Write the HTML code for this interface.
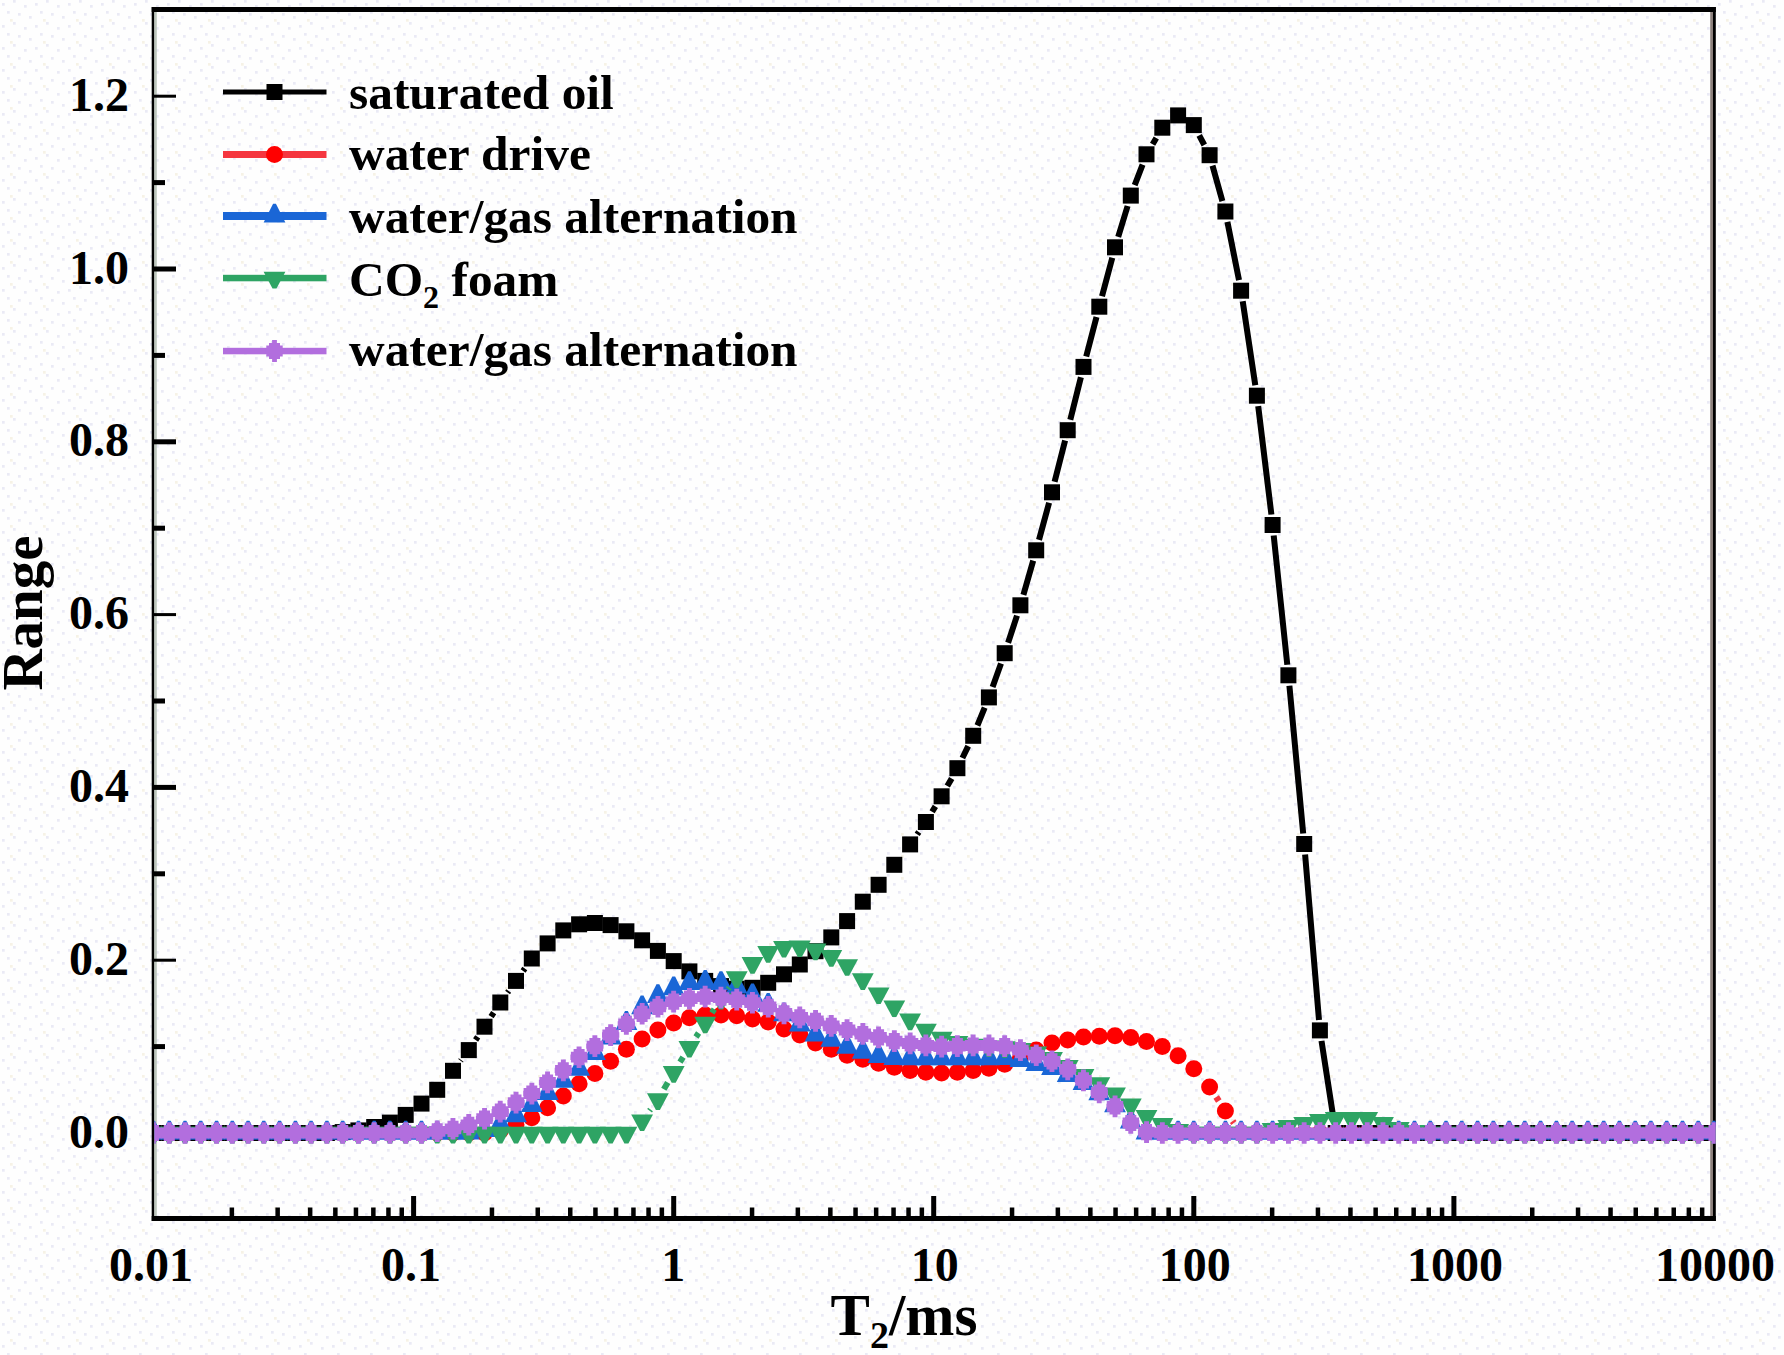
<!DOCTYPE html>
<html><head><meta charset="utf-8"><title>T2 spectrum</title>
<style>html,body{margin:0;padding:0;background:#fefefe}svg{display:block}</style></head>
<body>
<svg width="1784" height="1355" viewBox="0 0 1784 1355">
<rect width="1784" height="1355" fill="#fefefe"/>
<defs><pattern id="dots" width="33" height="22" patternUnits="userSpaceOnUse"><g fill="#eaeaf5"><rect x="2" y="3" width="2.7" height="2.7"/><rect x="13" y="0" width="2.7" height="2.7"/><rect x="24" y="5" width="2.7" height="2.7"/><rect x="7" y="11" width="2.7" height="2.7"/><rect x="18" y="13" width="2.7" height="2.7"/><rect x="29" y="16" width="2.7" height="2.7"/></g><rect x="10" y="19" width="2.7" height="2.7" fill="#f6f2e6"/></pattern><clipPath id="clip"><rect x="154.3" y="12" width="1561.4" height="1206"/></clipPath></defs>
<rect width="1784" height="1355" fill="url(#dots)"/>
<g fill="#000">
<rect x="151.7" y="7" width="1564.1" height="5"/>
<rect x="151.7" y="1216" width="1564.1" height="5"/>
<rect x="151.7" y="7" width="2.7" height="1214"/>
<rect x="1713" y="7" width="2.8" height="1214"/>
</g>
<rect x="154.4" y="12" width="2.4" height="1204" fill="#bcc6bc"/>
<rect x="1710.2" y="12" width="2.8" height="1204" fill="#8c807c"/>
<rect x="154" y="1130.5" width="22" height="5.0" fill="#000"/>
<rect x="154" y="1044.1" width="11" height="5" fill="#000"/>
<rect x="154" y="958.7" width="22" height="3.0" fill="#000"/>
<rect x="154" y="871.3" width="11" height="5" fill="#000"/>
<rect x="154" y="784.9" width="22" height="5.0" fill="#000"/>
<rect x="154" y="698.5" width="11" height="5" fill="#000"/>
<rect x="154" y="613.1" width="22" height="3.0" fill="#000"/>
<rect x="154" y="525.7" width="11" height="5" fill="#000"/>
<rect x="154" y="439.3" width="22" height="5.0" fill="#000"/>
<rect x="154" y="352.9" width="11" height="5" fill="#000"/>
<rect x="154" y="266.5" width="22" height="5.0" fill="#000"/>
<rect x="154" y="180.1" width="11" height="5" fill="#000"/>
<rect x="154" y="94.7" width="22" height="3.0" fill="#000"/>
<rect x="229.6" y="1207.5" width="4.5" height="10" fill="#000"/>
<rect x="275.4" y="1207.5" width="4.5" height="10" fill="#000"/>
<rect x="307.9" y="1207.5" width="4.5" height="10" fill="#000"/>
<rect x="333.1" y="1207.5" width="4.5" height="10" fill="#000"/>
<rect x="353.7" y="1207.5" width="4.5" height="10" fill="#000"/>
<rect x="371.1" y="1207.5" width="4.5" height="10" fill="#000"/>
<rect x="386.2" y="1207.5" width="4.5" height="10" fill="#000"/>
<rect x="399.5" y="1207.5" width="4.5" height="10" fill="#000"/>
<rect x="411.1" y="1196" width="5" height="22" fill="#000"/>
<rect x="489.7" y="1207.5" width="4.5" height="10" fill="#000"/>
<rect x="535.5" y="1207.5" width="4.5" height="10" fill="#000"/>
<rect x="568.0" y="1207.5" width="4.5" height="10" fill="#000"/>
<rect x="593.2" y="1207.5" width="4.5" height="10" fill="#000"/>
<rect x="613.8" y="1207.5" width="4.5" height="10" fill="#000"/>
<rect x="631.2" y="1207.5" width="4.5" height="10" fill="#000"/>
<rect x="646.3" y="1207.5" width="4.5" height="10" fill="#000"/>
<rect x="659.6" y="1207.5" width="4.5" height="10" fill="#000"/>
<rect x="671.2" y="1196" width="5" height="22" fill="#000"/>
<rect x="749.8" y="1207.5" width="4.5" height="10" fill="#000"/>
<rect x="795.6" y="1207.5" width="4.5" height="10" fill="#000"/>
<rect x="828.1" y="1207.5" width="4.5" height="10" fill="#000"/>
<rect x="853.3" y="1207.5" width="4.5" height="10" fill="#000"/>
<rect x="873.9" y="1207.5" width="4.5" height="10" fill="#000"/>
<rect x="891.3" y="1207.5" width="4.5" height="10" fill="#000"/>
<rect x="906.3" y="1207.5" width="4.5" height="10" fill="#000"/>
<rect x="919.6" y="1207.5" width="4.5" height="10" fill="#000"/>
<rect x="931.2" y="1196" width="5" height="22" fill="#000"/>
<rect x="1009.8" y="1207.5" width="4.5" height="10" fill="#000"/>
<rect x="1055.6" y="1207.5" width="4.5" height="10" fill="#000"/>
<rect x="1088.1" y="1207.5" width="4.5" height="10" fill="#000"/>
<rect x="1113.3" y="1207.5" width="4.5" height="10" fill="#000"/>
<rect x="1133.9" y="1207.5" width="4.5" height="10" fill="#000"/>
<rect x="1151.3" y="1207.5" width="4.5" height="10" fill="#000"/>
<rect x="1166.4" y="1207.5" width="4.5" height="10" fill="#000"/>
<rect x="1179.7" y="1207.5" width="4.5" height="10" fill="#000"/>
<rect x="1191.3" y="1196" width="5" height="22" fill="#000"/>
<rect x="1269.9" y="1207.5" width="4.5" height="10" fill="#000"/>
<rect x="1315.7" y="1207.5" width="4.5" height="10" fill="#000"/>
<rect x="1348.2" y="1207.5" width="4.5" height="10" fill="#000"/>
<rect x="1373.4" y="1207.5" width="4.5" height="10" fill="#000"/>
<rect x="1394.0" y="1207.5" width="4.5" height="10" fill="#000"/>
<rect x="1411.4" y="1207.5" width="4.5" height="10" fill="#000"/>
<rect x="1426.5" y="1207.5" width="4.5" height="10" fill="#000"/>
<rect x="1439.8" y="1207.5" width="4.5" height="10" fill="#000"/>
<rect x="1451.4" y="1196" width="5" height="22" fill="#000"/>
<rect x="1530.0" y="1207.5" width="4.5" height="10" fill="#000"/>
<rect x="1575.8" y="1207.5" width="4.5" height="10" fill="#000"/>
<rect x="1608.3" y="1207.5" width="4.5" height="10" fill="#000"/>
<rect x="1633.5" y="1207.5" width="4.5" height="10" fill="#000"/>
<rect x="1654.1" y="1207.5" width="4.5" height="10" fill="#000"/>
<rect x="1671.5" y="1207.5" width="4.5" height="10" fill="#000"/>
<rect x="1686.6" y="1207.5" width="4.5" height="10" fill="#000"/>
<rect x="1699.9" y="1207.5" width="4.5" height="10" fill="#000"/>
<g clip-path="url(#clip)">
<path fill="none" stroke="#000000" stroke-width="6" d="M460.6 1060.8L461.2 1060.0M475.6 1040.0L477.7 1036.8M491.1 1016.6L493.7 1012.6M507.6 992.5L508.7 991.0M523.1 970.9L524.8 968.5M917.2 834.4L918.8 832.0M932.1 811.8L935.4 806.4M947.3 786.1L951.7 778.4M962.4 758.0L968.2 746.1M977.4 725.5L984.7 707.7M992.6 687.0L1001.0 663.6M1008.1 642.8L1017.0 615.6M1023.4 594.9L1033.2 560.7M1039.0 539.9L1049.1 502.7M1054.6 481.8L1065.1 440.6M1070.3 419.8L1080.9 377.3M1086.2 356.5L1096.5 317.1M1102.0 296.3L1112.3 257.7M1118.2 236.9L1127.6 206.0M1134.7 185.2L1142.6 164.7M1152.6 144.2L1156.3 137.9M1199.2 135.3L1204.3 145.0M1212.5 165.6L1222.4 201.1M1227.4 221.9L1239.0 280.2M1242.7 301.2L1255.3 385.2M1258.2 406.1L1271.4 514.5M1273.7 535.5L1287.3 664.8M1289.4 685.7L1303.2 833.5M1305.1 854.5L1319.0 1020.0M1321.5 1040.9L1334.1 1122.5"/>
<rect x="145.5" y="1125.0" width="16" height="16" fill="#000000"/><rect x="161.3" y="1125.0" width="16" height="16" fill="#000000"/><rect x="177.0" y="1125.0" width="16" height="16" fill="#000000"/><rect x="192.8" y="1125.0" width="16" height="16" fill="#000000"/><rect x="208.6" y="1125.0" width="16" height="16" fill="#000000"/><rect x="224.3" y="1125.0" width="16" height="16" fill="#000000"/><rect x="240.1" y="1125.0" width="16" height="16" fill="#000000"/><rect x="255.8" y="1125.0" width="16" height="16" fill="#000000"/><rect x="271.6" y="1125.0" width="16" height="16" fill="#000000"/><rect x="287.4" y="1125.0" width="16" height="16" fill="#000000"/><rect x="303.1" y="1125.0" width="16" height="16" fill="#000000"/><rect x="318.9" y="1125.0" width="16" height="16" fill="#000000"/><rect x="334.7" y="1124.1" width="16" height="16" fill="#000000"/><rect x="350.4" y="1122.4" width="16" height="16" fill="#000000"/><rect x="366.2" y="1119.0" width="16" height="16" fill="#000000"/><rect x="381.9" y="1114.6" width="16" height="16" fill="#000000"/><rect x="397.7" y="1106.9" width="16" height="16" fill="#000000"/><rect x="413.5" y="1095.6" width="16" height="16" fill="#000000"/><rect x="429.2" y="1081.8" width="16" height="16" fill="#000000"/><rect x="445.0" y="1062.8" width="16" height="16" fill="#000000"/><rect x="460.8" y="1042.1" width="16" height="16" fill="#000000"/><rect x="476.5" y="1018.7" width="16" height="16" fill="#000000"/><rect x="492.3" y="994.5" width="16" height="16" fill="#000000"/><rect x="508.0" y="972.9" width="16" height="16" fill="#000000"/><rect x="523.8" y="950.5" width="16" height="16" fill="#000000"/><rect x="539.6" y="935.4" width="16" height="16" fill="#000000"/><rect x="555.3" y="922.4" width="16" height="16" fill="#000000"/><rect x="571.1" y="916.3" width="16" height="16" fill="#000000"/><rect x="586.9" y="915.0" width="16" height="16" fill="#000000"/><rect x="602.6" y="917.1" width="16" height="16" fill="#000000"/><rect x="618.4" y="923.3" width="16" height="16" fill="#000000"/><rect x="634.1" y="932.3" width="16" height="16" fill="#000000"/><rect x="649.9" y="942.9" width="16" height="16" fill="#000000"/><rect x="665.7" y="953.1" width="16" height="16" fill="#000000"/><rect x="681.4" y="963.4" width="16" height="16" fill="#000000"/><rect x="697.2" y="972.9" width="16" height="16" fill="#000000"/><rect x="713.0" y="978.1" width="16" height="16" fill="#000000"/><rect x="728.7" y="980.7" width="16" height="16" fill="#000000"/><rect x="744.5" y="979.8" width="16" height="16" fill="#000000"/><rect x="760.2" y="974.8" width="16" height="16" fill="#000000"/><rect x="776.0" y="966.3" width="16" height="16" fill="#000000"/><rect x="791.8" y="956.5" width="16" height="16" fill="#000000"/><rect x="807.5" y="943.2" width="16" height="16" fill="#000000"/><rect x="823.3" y="929.4" width="16" height="16" fill="#000000"/><rect x="839.1" y="913.1" width="16" height="16" fill="#000000"/><rect x="854.8" y="893.7" width="16" height="16" fill="#000000"/><rect x="870.6" y="876.8" width="16" height="16" fill="#000000"/><rect x="886.3" y="856.8" width="16" height="16" fill="#000000"/><rect x="902.1" y="836.4" width="16" height="16" fill="#000000"/><rect x="917.9" y="814.0" width="16" height="16" fill="#000000"/><rect x="933.6" y="788.3" width="16" height="16" fill="#000000"/><rect x="949.4" y="760.2" width="16" height="16" fill="#000000"/><rect x="965.2" y="727.8" width="16" height="16" fill="#000000"/><rect x="980.9" y="689.4" width="16" height="16" fill="#000000"/><rect x="996.7" y="645.2" width="16" height="16" fill="#000000"/><rect x="1012.4" y="597.3" width="16" height="16" fill="#000000"/><rect x="1028.2" y="542.3" width="16" height="16" fill="#000000"/><rect x="1044.0" y="484.3" width="16" height="16" fill="#000000"/><rect x="1059.7" y="422.2" width="16" height="16" fill="#000000"/><rect x="1075.5" y="358.9" width="16" height="16" fill="#000000"/><rect x="1091.3" y="298.7" width="16" height="16" fill="#000000"/><rect x="1107.0" y="239.3" width="16" height="16" fill="#000000"/><rect x="1122.8" y="187.6" width="16" height="16" fill="#000000"/><rect x="1138.5" y="146.3" width="16" height="16" fill="#000000"/><rect x="1154.3" y="119.7" width="16" height="16" fill="#000000"/><rect x="1170.1" y="107.4" width="16" height="16" fill="#000000"/><rect x="1185.8" y="117.1" width="16" height="16" fill="#000000"/><rect x="1201.6" y="147.2" width="16" height="16" fill="#000000"/><rect x="1217.4" y="203.5" width="16" height="16" fill="#000000"/><rect x="1233.1" y="282.7" width="16" height="16" fill="#000000"/><rect x="1248.9" y="387.7" width="16" height="16" fill="#000000"/><rect x="1264.6" y="517.0" width="16" height="16" fill="#000000"/><rect x="1280.4" y="667.3" width="16" height="16" fill="#000000"/><rect x="1296.2" y="836.0" width="16" height="16" fill="#000000"/><rect x="1311.9" y="1022.4" width="16" height="16" fill="#000000"/><rect x="1327.7" y="1125.0" width="16" height="16" fill="#000000"/><rect x="1343.5" y="1125.0" width="16" height="16" fill="#000000"/><rect x="1359.2" y="1125.0" width="16" height="16" fill="#000000"/><rect x="1375.0" y="1125.0" width="16" height="16" fill="#000000"/><rect x="1390.7" y="1125.0" width="16" height="16" fill="#000000"/><rect x="1406.5" y="1125.0" width="16" height="16" fill="#000000"/><rect x="1422.3" y="1125.0" width="16" height="16" fill="#000000"/><rect x="1438.0" y="1125.0" width="16" height="16" fill="#000000"/><rect x="1453.8" y="1125.0" width="16" height="16" fill="#000000"/><rect x="1469.6" y="1125.0" width="16" height="16" fill="#000000"/><rect x="1485.3" y="1125.0" width="16" height="16" fill="#000000"/><rect x="1501.1" y="1125.0" width="16" height="16" fill="#000000"/><rect x="1516.8" y="1125.0" width="16" height="16" fill="#000000"/><rect x="1532.6" y="1125.0" width="16" height="16" fill="#000000"/><rect x="1548.4" y="1125.0" width="16" height="16" fill="#000000"/><rect x="1564.1" y="1125.0" width="16" height="16" fill="#000000"/><rect x="1579.9" y="1125.0" width="16" height="16" fill="#000000"/><rect x="1595.7" y="1125.0" width="16" height="16" fill="#000000"/><rect x="1611.4" y="1125.0" width="16" height="16" fill="#000000"/><rect x="1627.2" y="1125.0" width="16" height="16" fill="#000000"/><rect x="1642.9" y="1125.0" width="16" height="16" fill="#000000"/><rect x="1658.7" y="1125.0" width="16" height="16" fill="#000000"/><rect x="1674.5" y="1125.0" width="16" height="16" fill="#000000"/><rect x="1690.2" y="1125.0" width="16" height="16" fill="#000000"/><rect x="1706.0" y="1125.0" width="16" height="16" fill="#000000"/>
<path fill="none" stroke="#f5363f" stroke-width="6.5" d="M1216.2 1097.0L1218.8 1101.0M1232.6 1121.2L1233.9 1123.0"/>
<circle cx="153.5" cy="1133.0" r="8.5" fill="#ff0000"/><circle cx="169.3" cy="1133.0" r="8.5" fill="#ff0000"/><circle cx="185.0" cy="1133.0" r="8.5" fill="#ff0000"/><circle cx="200.8" cy="1133.0" r="8.5" fill="#ff0000"/><circle cx="216.6" cy="1133.0" r="8.5" fill="#ff0000"/><circle cx="232.3" cy="1133.0" r="8.5" fill="#ff0000"/><circle cx="248.1" cy="1133.0" r="8.5" fill="#ff0000"/><circle cx="263.8" cy="1133.0" r="8.5" fill="#ff0000"/><circle cx="279.6" cy="1133.0" r="8.5" fill="#ff0000"/><circle cx="295.4" cy="1133.0" r="8.5" fill="#ff0000"/><circle cx="311.1" cy="1133.0" r="8.5" fill="#ff0000"/><circle cx="326.9" cy="1133.0" r="8.5" fill="#ff0000"/><circle cx="342.7" cy="1133.0" r="8.5" fill="#ff0000"/><circle cx="358.4" cy="1133.0" r="8.5" fill="#ff0000"/><circle cx="374.2" cy="1133.0" r="8.5" fill="#ff0000"/><circle cx="389.9" cy="1133.0" r="8.5" fill="#ff0000"/><circle cx="405.7" cy="1133.0" r="8.5" fill="#ff0000"/><circle cx="421.5" cy="1133.0" r="8.5" fill="#ff0000"/><circle cx="437.2" cy="1133.0" r="8.5" fill="#ff0000"/><circle cx="453.0" cy="1133.0" r="8.5" fill="#ff0000"/><circle cx="468.8" cy="1133.0" r="8.5" fill="#ff0000"/><circle cx="484.5" cy="1133.0" r="8.5" fill="#ff0000"/><circle cx="500.3" cy="1130.4" r="8.5" fill="#ff0000"/><circle cx="516.0" cy="1124.8" r="8.5" fill="#ff0000"/><circle cx="531.8" cy="1117.7" r="8.5" fill="#ff0000"/><circle cx="547.6" cy="1107.7" r="8.5" fill="#ff0000"/><circle cx="563.3" cy="1095.9" r="8.5" fill="#ff0000"/><circle cx="579.1" cy="1083.8" r="8.5" fill="#ff0000"/><circle cx="594.9" cy="1073.4" r="8.5" fill="#ff0000"/><circle cx="610.6" cy="1061.3" r="8.5" fill="#ff0000"/><circle cx="626.4" cy="1049.2" r="8.5" fill="#ff0000"/><circle cx="642.1" cy="1039.1" r="8.5" fill="#ff0000"/><circle cx="657.9" cy="1030.0" r="8.5" fill="#ff0000"/><circle cx="673.7" cy="1022.9" r="8.5" fill="#ff0000"/><circle cx="689.4" cy="1017.8" r="8.5" fill="#ff0000"/><circle cx="705.2" cy="1014.9" r="8.5" fill="#ff0000"/><circle cx="721.0" cy="1014.9" r="8.5" fill="#ff0000"/><circle cx="736.7" cy="1015.8" r="8.5" fill="#ff0000"/><circle cx="752.5" cy="1018.9" r="8.5" fill="#ff0000"/><circle cx="768.2" cy="1021.9" r="8.5" fill="#ff0000"/><circle cx="784.0" cy="1028.9" r="8.5" fill="#ff0000"/><circle cx="799.8" cy="1034.9" r="8.5" fill="#ff0000"/><circle cx="815.5" cy="1043.1" r="8.5" fill="#ff0000"/><circle cx="831.3" cy="1049.2" r="8.5" fill="#ff0000"/><circle cx="847.1" cy="1055.2" r="8.5" fill="#ff0000"/><circle cx="862.8" cy="1059.2" r="8.5" fill="#ff0000"/><circle cx="878.6" cy="1063.3" r="8.5" fill="#ff0000"/><circle cx="894.3" cy="1067.3" r="8.5" fill="#ff0000"/><circle cx="910.1" cy="1070.4" r="8.5" fill="#ff0000"/><circle cx="925.9" cy="1072.3" r="8.5" fill="#ff0000"/><circle cx="941.6" cy="1073.0" r="8.5" fill="#ff0000"/><circle cx="957.4" cy="1072.3" r="8.5" fill="#ff0000"/><circle cx="973.2" cy="1070.4" r="8.5" fill="#ff0000"/><circle cx="988.9" cy="1068.3" r="8.5" fill="#ff0000"/><circle cx="1004.7" cy="1064.3" r="8.5" fill="#ff0000"/><circle cx="1020.4" cy="1057.8" r="8.5" fill="#ff0000"/><circle cx="1036.2" cy="1050.1" r="8.5" fill="#ff0000"/><circle cx="1052.0" cy="1043.1" r="8.5" fill="#ff0000"/><circle cx="1067.7" cy="1040.1" r="8.5" fill="#ff0000"/><circle cx="1083.5" cy="1037.1" r="8.5" fill="#ff0000"/><circle cx="1099.3" cy="1036.2" r="8.5" fill="#ff0000"/><circle cx="1115.0" cy="1035.8" r="8.5" fill="#ff0000"/><circle cx="1130.8" cy="1037.5" r="8.5" fill="#ff0000"/><circle cx="1146.5" cy="1041.5" r="8.5" fill="#ff0000"/><circle cx="1162.3" cy="1046.6" r="8.5" fill="#ff0000"/><circle cx="1178.1" cy="1055.7" r="8.5" fill="#ff0000"/><circle cx="1193.8" cy="1068.8" r="8.5" fill="#ff0000"/><circle cx="1209.6" cy="1086.9" r="8.5" fill="#ff0000"/><circle cx="1225.4" cy="1111.1" r="8.5" fill="#ff0000"/><circle cx="1241.1" cy="1133.0" r="8.5" fill="#ff0000"/><circle cx="1256.9" cy="1133.0" r="8.5" fill="#ff0000"/><circle cx="1272.6" cy="1133.0" r="8.5" fill="#ff0000"/><circle cx="1288.4" cy="1133.0" r="8.5" fill="#ff0000"/><circle cx="1304.2" cy="1133.0" r="8.5" fill="#ff0000"/><circle cx="1319.9" cy="1133.0" r="8.5" fill="#ff0000"/><circle cx="1335.7" cy="1133.0" r="8.5" fill="#ff0000"/><circle cx="1351.5" cy="1133.0" r="8.5" fill="#ff0000"/><circle cx="1367.2" cy="1133.0" r="8.5" fill="#ff0000"/><circle cx="1383.0" cy="1133.0" r="8.5" fill="#ff0000"/><circle cx="1398.7" cy="1133.0" r="8.5" fill="#ff0000"/><circle cx="1414.5" cy="1133.0" r="8.5" fill="#ff0000"/><circle cx="1430.3" cy="1133.0" r="8.5" fill="#ff0000"/><circle cx="1446.0" cy="1133.0" r="8.5" fill="#ff0000"/><circle cx="1461.8" cy="1133.0" r="8.5" fill="#ff0000"/><circle cx="1477.6" cy="1133.0" r="8.5" fill="#ff0000"/><circle cx="1493.3" cy="1133.0" r="8.5" fill="#ff0000"/><circle cx="1509.1" cy="1133.0" r="8.5" fill="#ff0000"/><circle cx="1524.8" cy="1133.0" r="8.5" fill="#ff0000"/><circle cx="1540.6" cy="1133.0" r="8.5" fill="#ff0000"/><circle cx="1556.4" cy="1133.0" r="8.5" fill="#ff0000"/><circle cx="1572.1" cy="1133.0" r="8.5" fill="#ff0000"/><circle cx="1587.9" cy="1133.0" r="8.5" fill="#ff0000"/><circle cx="1603.7" cy="1133.0" r="8.5" fill="#ff0000"/><circle cx="1619.4" cy="1133.0" r="8.5" fill="#ff0000"/><circle cx="1635.2" cy="1133.0" r="8.5" fill="#ff0000"/><circle cx="1650.9" cy="1133.0" r="8.5" fill="#ff0000"/><circle cx="1666.7" cy="1133.0" r="8.5" fill="#ff0000"/><circle cx="1682.5" cy="1133.0" r="8.5" fill="#ff0000"/><circle cx="1698.2" cy="1133.0" r="8.5" fill="#ff0000"/><circle cx="1714.0" cy="1133.0" r="8.5" fill="#ff0000"/>
<path fill="none" stroke="#1a66d6" stroke-width="7" d=""/>
<polygon points="152.1,1120.8 154.9,1120.8 164.4,1139.6 142.6,1139.6" fill="#1a66d6"/><polygon points="167.9,1120.8 170.7,1120.8 180.2,1139.6 158.4,1139.6" fill="#1a66d6"/><polygon points="183.6,1120.8 186.4,1120.8 195.9,1139.6 174.1,1139.6" fill="#1a66d6"/><polygon points="199.4,1120.8 202.2,1120.8 211.7,1139.6 189.9,1139.6" fill="#1a66d6"/><polygon points="215.2,1120.8 218.0,1120.8 227.5,1139.6 205.7,1139.6" fill="#1a66d6"/><polygon points="230.9,1120.8 233.7,1120.8 243.2,1139.6 221.4,1139.6" fill="#1a66d6"/><polygon points="246.7,1120.8 249.5,1120.8 259.0,1139.6 237.2,1139.6" fill="#1a66d6"/><polygon points="262.4,1120.8 265.2,1120.8 274.7,1139.6 252.9,1139.6" fill="#1a66d6"/><polygon points="278.2,1120.8 281.0,1120.8 290.5,1139.6 268.7,1139.6" fill="#1a66d6"/><polygon points="294.0,1120.8 296.8,1120.8 306.3,1139.6 284.5,1139.6" fill="#1a66d6"/><polygon points="309.7,1120.8 312.5,1120.8 322.0,1139.6 300.2,1139.6" fill="#1a66d6"/><polygon points="325.5,1120.8 328.3,1120.8 337.8,1139.6 316.0,1139.6" fill="#1a66d6"/><polygon points="341.3,1120.8 344.1,1120.8 353.6,1139.6 331.8,1139.6" fill="#1a66d6"/><polygon points="357.0,1120.8 359.8,1120.8 369.3,1139.6 347.5,1139.6" fill="#1a66d6"/><polygon points="372.8,1120.8 375.6,1120.8 385.1,1139.6 363.3,1139.6" fill="#1a66d6"/><polygon points="388.5,1120.8 391.3,1120.8 400.8,1139.6 379.0,1139.6" fill="#1a66d6"/><polygon points="404.3,1120.8 407.1,1120.8 416.6,1139.6 394.8,1139.6" fill="#1a66d6"/><polygon points="420.1,1120.8 422.9,1120.8 432.4,1139.6 410.6,1139.6" fill="#1a66d6"/><polygon points="435.8,1120.8 438.6,1120.8 448.1,1139.6 426.3,1139.6" fill="#1a66d6"/><polygon points="451.6,1120.8 454.4,1120.8 463.9,1139.6 442.1,1139.6" fill="#1a66d6"/><polygon points="467.4,1120.8 470.2,1120.8 479.7,1139.6 457.9,1139.6" fill="#1a66d6"/><polygon points="483.1,1118.2 485.9,1118.2 495.4,1137.0 473.6,1137.0" fill="#1a66d6"/><polygon points="498.9,1112.2 501.7,1112.2 511.2,1131.0 489.4,1131.0" fill="#1a66d6"/><polygon points="514.6,1103.5 517.4,1103.5 526.9,1122.3 505.1,1122.3" fill="#1a66d6"/><polygon points="530.4,1093.2 533.2,1093.2 542.7,1112.0 520.9,1112.0" fill="#1a66d6"/><polygon points="546.2,1081.1 549.0,1081.1 558.5,1099.9 536.7,1099.9" fill="#1a66d6"/><polygon points="561.9,1069.0 564.7,1069.0 574.2,1087.8 552.4,1087.8" fill="#1a66d6"/><polygon points="577.7,1056.9 580.5,1056.9 590.0,1075.7 568.2,1075.7" fill="#1a66d6"/><polygon points="593.5,1041.3 596.3,1041.3 605.8,1060.1 584.0,1060.1" fill="#1a66d6"/><polygon points="609.2,1025.8 612.0,1025.8 621.5,1044.6 599.7,1044.6" fill="#1a66d6"/><polygon points="625.0,1011.1 627.8,1011.1 637.3,1029.9 615.5,1029.9" fill="#1a66d6"/><polygon points="640.7,995.5 643.5,995.5 653.0,1014.3 631.2,1014.3" fill="#1a66d6"/><polygon points="656.5,984.3 659.3,984.3 668.8,1003.1 647.0,1003.1" fill="#1a66d6"/><polygon points="672.3,976.5 675.1,976.5 684.6,995.3 662.8,995.3" fill="#1a66d6"/><polygon points="688.0,971.3 690.8,971.3 700.3,990.1 678.5,990.1" fill="#1a66d6"/><polygon points="703.8,970.0 706.6,970.0 716.1,988.8 694.3,988.8" fill="#1a66d6"/><polygon points="719.6,971.3 722.4,971.3 731.9,990.1 710.1,990.1" fill="#1a66d6"/><polygon points="735.3,974.8 738.1,974.8 747.6,993.6 725.8,993.6" fill="#1a66d6"/><polygon points="751.1,983.4 753.9,983.4 763.4,1002.2 741.6,1002.2" fill="#1a66d6"/><polygon points="766.8,992.9 769.6,992.9 779.1,1011.7 757.3,1011.7" fill="#1a66d6"/><polygon points="782.6,1002.4 785.4,1002.4 794.9,1021.2 773.1,1021.2" fill="#1a66d6"/><polygon points="798.4,1012.8 801.2,1012.8 810.7,1031.6 788.9,1031.6" fill="#1a66d6"/><polygon points="814.1,1022.8 816.9,1022.8 826.4,1041.6 804.6,1041.6" fill="#1a66d6"/><polygon points="829.9,1027.9 832.7,1027.9 842.2,1046.7 820.4,1046.7" fill="#1a66d6"/><polygon points="845.7,1035.0 848.5,1035.0 858.0,1053.8 836.2,1053.8" fill="#1a66d6"/><polygon points="861.4,1040.0 864.2,1040.0 873.7,1058.8 851.9,1058.8" fill="#1a66d6"/><polygon points="877.2,1044.1 880.0,1044.1 889.5,1062.9 867.7,1062.9" fill="#1a66d6"/><polygon points="892.9,1046.1 895.7,1046.1 905.2,1064.9 883.4,1064.9" fill="#1a66d6"/><polygon points="908.7,1046.5 911.5,1046.5 921.0,1065.3 899.2,1065.3" fill="#1a66d6"/><polygon points="924.5,1046.5 927.3,1046.5 936.8,1065.3 915.0,1065.3" fill="#1a66d6"/><polygon points="940.2,1046.5 943.0,1046.5 952.5,1065.3 930.7,1065.3" fill="#1a66d6"/><polygon points="956.0,1046.5 958.8,1046.5 968.3,1065.3 946.5,1065.3" fill="#1a66d6"/><polygon points="971.8,1046.5 974.6,1046.5 984.1,1065.3 962.3,1065.3" fill="#1a66d6"/><polygon points="987.5,1046.5 990.3,1046.5 999.8,1065.3 978.0,1065.3" fill="#1a66d6"/><polygon points="1003.3,1046.1 1006.1,1046.1 1015.6,1064.9 993.8,1064.9" fill="#1a66d6"/><polygon points="1019.0,1048.1 1021.8,1048.1 1031.3,1066.9 1009.5,1066.9" fill="#1a66d6"/><polygon points="1034.8,1052.1 1037.6,1052.1 1047.1,1070.9 1025.3,1070.9" fill="#1a66d6"/><polygon points="1050.6,1056.2 1053.4,1056.2 1062.9,1075.0 1041.1,1075.0" fill="#1a66d6"/><polygon points="1066.3,1063.2 1069.1,1063.2 1078.6,1082.0 1056.8,1082.0" fill="#1a66d6"/><polygon points="1082.1,1071.3 1084.9,1071.3 1094.4,1090.1 1072.6,1090.1" fill="#1a66d6"/><polygon points="1097.9,1081.4 1100.7,1081.4 1110.2,1100.2 1088.4,1100.2" fill="#1a66d6"/><polygon points="1113.6,1093.5 1116.4,1093.5 1125.9,1112.3 1104.1,1112.3" fill="#1a66d6"/><polygon points="1129.4,1109.6 1132.2,1109.6 1141.7,1128.4 1119.9,1128.4" fill="#1a66d6"/><polygon points="1145.1,1120.8 1147.9,1120.8 1157.4,1139.6 1135.6,1139.6" fill="#1a66d6"/><polygon points="1160.9,1120.8 1163.7,1120.8 1173.2,1139.6 1151.4,1139.6" fill="#1a66d6"/><polygon points="1176.7,1120.8 1179.5,1120.8 1189.0,1139.6 1167.2,1139.6" fill="#1a66d6"/><polygon points="1192.4,1120.8 1195.2,1120.8 1204.7,1139.6 1182.9,1139.6" fill="#1a66d6"/><polygon points="1208.2,1120.8 1211.0,1120.8 1220.5,1139.6 1198.7,1139.6" fill="#1a66d6"/><polygon points="1224.0,1120.8 1226.8,1120.8 1236.3,1139.6 1214.5,1139.6" fill="#1a66d6"/><polygon points="1239.7,1120.8 1242.5,1120.8 1252.0,1139.6 1230.2,1139.6" fill="#1a66d6"/><polygon points="1255.5,1120.8 1258.3,1120.8 1267.8,1139.6 1246.0,1139.6" fill="#1a66d6"/><polygon points="1271.2,1120.8 1274.0,1120.8 1283.5,1139.6 1261.7,1139.6" fill="#1a66d6"/><polygon points="1287.0,1120.8 1289.8,1120.8 1299.3,1139.6 1277.5,1139.6" fill="#1a66d6"/><polygon points="1302.8,1120.8 1305.6,1120.8 1315.1,1139.6 1293.3,1139.6" fill="#1a66d6"/><polygon points="1318.5,1120.8 1321.3,1120.8 1330.8,1139.6 1309.0,1139.6" fill="#1a66d6"/><polygon points="1334.3,1120.8 1337.1,1120.8 1346.6,1139.6 1324.8,1139.6" fill="#1a66d6"/><polygon points="1350.1,1120.8 1352.9,1120.8 1362.4,1139.6 1340.6,1139.6" fill="#1a66d6"/><polygon points="1365.8,1120.8 1368.6,1120.8 1378.1,1139.6 1356.3,1139.6" fill="#1a66d6"/><polygon points="1381.6,1120.8 1384.4,1120.8 1393.9,1139.6 1372.1,1139.6" fill="#1a66d6"/><polygon points="1397.3,1120.8 1400.1,1120.8 1409.6,1139.6 1387.8,1139.6" fill="#1a66d6"/><polygon points="1413.1,1120.8 1415.9,1120.8 1425.4,1139.6 1403.6,1139.6" fill="#1a66d6"/><polygon points="1428.9,1120.8 1431.7,1120.8 1441.2,1139.6 1419.4,1139.6" fill="#1a66d6"/><polygon points="1444.6,1120.8 1447.4,1120.8 1456.9,1139.6 1435.1,1139.6" fill="#1a66d6"/><polygon points="1460.4,1120.8 1463.2,1120.8 1472.7,1139.6 1450.9,1139.6" fill="#1a66d6"/><polygon points="1476.2,1120.8 1479.0,1120.8 1488.5,1139.6 1466.7,1139.6" fill="#1a66d6"/><polygon points="1491.9,1120.8 1494.7,1120.8 1504.2,1139.6 1482.4,1139.6" fill="#1a66d6"/><polygon points="1507.7,1120.8 1510.5,1120.8 1520.0,1139.6 1498.2,1139.6" fill="#1a66d6"/><polygon points="1523.4,1120.8 1526.2,1120.8 1535.7,1139.6 1513.9,1139.6" fill="#1a66d6"/><polygon points="1539.2,1120.8 1542.0,1120.8 1551.5,1139.6 1529.7,1139.6" fill="#1a66d6"/><polygon points="1555.0,1120.8 1557.8,1120.8 1567.3,1139.6 1545.5,1139.6" fill="#1a66d6"/><polygon points="1570.7,1120.8 1573.5,1120.8 1583.0,1139.6 1561.2,1139.6" fill="#1a66d6"/><polygon points="1586.5,1120.8 1589.3,1120.8 1598.8,1139.6 1577.0,1139.6" fill="#1a66d6"/><polygon points="1602.3,1120.8 1605.1,1120.8 1614.6,1139.6 1592.8,1139.6" fill="#1a66d6"/><polygon points="1618.0,1120.8 1620.8,1120.8 1630.3,1139.6 1608.5,1139.6" fill="#1a66d6"/><polygon points="1633.8,1120.8 1636.6,1120.8 1646.1,1139.6 1624.3,1139.6" fill="#1a66d6"/><polygon points="1649.5,1120.8 1652.3,1120.8 1661.8,1139.6 1640.0,1139.6" fill="#1a66d6"/><polygon points="1665.3,1120.8 1668.1,1120.8 1677.6,1139.6 1655.8,1139.6" fill="#1a66d6"/><polygon points="1681.1,1120.8 1683.9,1120.8 1693.4,1139.6 1671.6,1139.6" fill="#1a66d6"/><polygon points="1696.8,1120.8 1699.6,1120.8 1709.1,1139.6 1687.3,1139.6" fill="#1a66d6"/><polygon points="1712.6,1120.8 1715.4,1120.8 1724.9,1139.6 1703.1,1139.6" fill="#1a66d6"/>
<path fill="none" stroke="#2ea464" stroke-width="6" d="M649.6 1110.7L650.5 1109.5M663.8 1089.3L667.8 1082.4M680.0 1062.1L683.1 1057.2M696.0 1037.0L698.6 1033.0M711.9 1012.8L714.3 1009.2M728.3 989.1L729.4 987.5"/>
<polygon points="151.5,1143.4 155.5,1143.4 164.4,1126.8 142.6,1126.8" fill="#2ea464"/><polygon points="167.3,1143.4 171.3,1143.4 180.2,1126.8 158.4,1126.8" fill="#2ea464"/><polygon points="183.0,1143.4 187.0,1143.4 195.9,1126.8 174.1,1126.8" fill="#2ea464"/><polygon points="198.8,1143.4 202.8,1143.4 211.7,1126.8 189.9,1126.8" fill="#2ea464"/><polygon points="214.6,1143.4 218.6,1143.4 227.5,1126.8 205.7,1126.8" fill="#2ea464"/><polygon points="230.3,1143.4 234.3,1143.4 243.2,1126.8 221.4,1126.8" fill="#2ea464"/><polygon points="246.1,1143.4 250.1,1143.4 259.0,1126.8 237.2,1126.8" fill="#2ea464"/><polygon points="261.8,1143.4 265.8,1143.4 274.7,1126.8 252.9,1126.8" fill="#2ea464"/><polygon points="277.6,1143.4 281.6,1143.4 290.5,1126.8 268.7,1126.8" fill="#2ea464"/><polygon points="293.4,1143.4 297.4,1143.4 306.3,1126.8 284.5,1126.8" fill="#2ea464"/><polygon points="309.1,1143.4 313.1,1143.4 322.0,1126.8 300.2,1126.8" fill="#2ea464"/><polygon points="324.9,1143.4 328.9,1143.4 337.8,1126.8 316.0,1126.8" fill="#2ea464"/><polygon points="340.7,1143.4 344.7,1143.4 353.6,1126.8 331.8,1126.8" fill="#2ea464"/><polygon points="356.4,1143.4 360.4,1143.4 369.3,1126.8 347.5,1126.8" fill="#2ea464"/><polygon points="372.2,1143.4 376.2,1143.4 385.1,1126.8 363.3,1126.8" fill="#2ea464"/><polygon points="387.9,1143.4 391.9,1143.4 400.8,1126.8 379.0,1126.8" fill="#2ea464"/><polygon points="403.7,1143.4 407.7,1143.4 416.6,1126.8 394.8,1126.8" fill="#2ea464"/><polygon points="419.5,1143.4 423.5,1143.4 432.4,1126.8 410.6,1126.8" fill="#2ea464"/><polygon points="435.2,1143.4 439.2,1143.4 448.1,1126.8 426.3,1126.8" fill="#2ea464"/><polygon points="451.0,1143.4 455.0,1143.4 463.9,1126.8 442.1,1126.8" fill="#2ea464"/><polygon points="466.8,1143.4 470.8,1143.4 479.7,1126.8 457.9,1126.8" fill="#2ea464"/><polygon points="482.5,1143.4 486.5,1143.4 495.4,1126.8 473.6,1126.8" fill="#2ea464"/><polygon points="498.3,1143.4 502.3,1143.4 511.2,1126.8 489.4,1126.8" fill="#2ea464"/><polygon points="514.0,1143.4 518.0,1143.4 526.9,1126.8 505.1,1126.8" fill="#2ea464"/><polygon points="529.8,1143.4 533.8,1143.4 542.7,1126.8 520.9,1126.8" fill="#2ea464"/><polygon points="545.6,1143.4 549.6,1143.4 558.5,1126.8 536.7,1126.8" fill="#2ea464"/><polygon points="561.3,1143.4 565.3,1143.4 574.2,1126.8 552.4,1126.8" fill="#2ea464"/><polygon points="577.1,1143.4 581.1,1143.4 590.0,1126.8 568.2,1126.8" fill="#2ea464"/><polygon points="592.9,1143.4 596.9,1143.4 605.8,1126.8 584.0,1126.8" fill="#2ea464"/><polygon points="608.6,1143.4 612.6,1143.4 621.5,1126.8 599.7,1126.8" fill="#2ea464"/><polygon points="624.4,1143.4 628.4,1143.4 637.3,1126.8 615.5,1126.8" fill="#2ea464"/><polygon points="640.1,1131.1 644.1,1131.1 653.0,1114.5 631.2,1114.5" fill="#2ea464"/><polygon points="655.9,1109.9 659.9,1109.9 668.8,1093.3 647.0,1093.3" fill="#2ea464"/><polygon points="671.7,1082.7 675.7,1082.7 684.6,1066.1 662.8,1066.1" fill="#2ea464"/><polygon points="687.4,1057.5 691.4,1057.5 700.3,1040.9 678.5,1040.9" fill="#2ea464"/><polygon points="703.2,1033.3 707.2,1033.3 716.1,1016.7 694.3,1016.7" fill="#2ea464"/><polygon points="719.0,1009.5 723.0,1009.5 731.9,992.9 710.1,992.9" fill="#2ea464"/><polygon points="734.7,987.9 738.7,987.9 747.6,971.3 725.8,971.3" fill="#2ea464"/><polygon points="750.5,973.7 754.5,973.7 763.4,957.1 741.6,957.1" fill="#2ea464"/><polygon points="766.2,962.7 770.2,962.7 779.1,946.1 757.3,946.1" fill="#2ea464"/><polygon points="782.0,957.6 786.0,957.6 794.9,941.0 773.1,941.0" fill="#2ea464"/><polygon points="797.8,957.1 801.8,957.1 810.7,940.5 788.9,940.5" fill="#2ea464"/><polygon points="813.5,960.2 817.5,960.2 826.4,943.6 804.6,943.6" fill="#2ea464"/><polygon points="829.3,966.7 833.3,966.7 842.2,950.1 820.4,950.1" fill="#2ea464"/><polygon points="845.1,975.8 849.1,975.8 858.0,959.2 836.2,959.2" fill="#2ea464"/><polygon points="860.8,989.9 864.8,989.9 873.7,973.3 851.9,973.3" fill="#2ea464"/><polygon points="876.6,1004.0 880.6,1004.0 889.5,987.4 867.7,987.4" fill="#2ea464"/><polygon points="892.3,1017.1 896.3,1017.1 905.2,1000.5 883.4,1000.5" fill="#2ea464"/><polygon points="908.1,1030.2 912.1,1030.2 921.0,1013.6 899.2,1013.6" fill="#2ea464"/><polygon points="923.9,1040.3 927.9,1040.3 936.8,1023.7 915.0,1023.7" fill="#2ea464"/><polygon points="939.6,1048.4 943.6,1048.4 952.5,1031.8 930.7,1031.8" fill="#2ea464"/><polygon points="955.4,1052.7 959.4,1052.7 968.3,1036.1 946.5,1036.1" fill="#2ea464"/><polygon points="971.2,1055.3 975.2,1055.3 984.1,1038.7 962.3,1038.7" fill="#2ea464"/><polygon points="986.9,1057.0 990.9,1057.0 999.8,1040.4 978.0,1040.4" fill="#2ea464"/><polygon points="1002.7,1057.9 1006.7,1057.9 1015.6,1041.3 993.8,1041.3" fill="#2ea464"/><polygon points="1018.4,1059.6 1022.4,1059.6 1031.3,1043.0 1009.5,1043.0" fill="#2ea464"/><polygon points="1034.2,1063.0 1038.2,1063.0 1047.1,1046.4 1025.3,1046.4" fill="#2ea464"/><polygon points="1050.0,1068.6 1054.0,1068.6 1062.9,1052.0 1041.1,1052.0" fill="#2ea464"/><polygon points="1065.7,1076.6 1069.7,1076.6 1078.6,1060.0 1056.8,1060.0" fill="#2ea464"/><polygon points="1081.5,1085.7 1085.5,1085.7 1094.4,1069.1 1072.6,1069.1" fill="#2ea464"/><polygon points="1097.3,1093.8 1101.3,1093.8 1110.2,1077.2 1088.4,1077.2" fill="#2ea464"/><polygon points="1113.0,1104.1 1117.0,1104.1 1125.9,1087.5 1104.1,1087.5" fill="#2ea464"/><polygon points="1128.8,1115.2 1132.8,1115.2 1141.7,1098.6 1119.9,1098.6" fill="#2ea464"/><polygon points="1144.5,1126.6 1148.5,1126.6 1157.4,1110.0 1135.6,1110.0" fill="#2ea464"/><polygon points="1160.3,1134.6 1164.3,1134.6 1173.2,1118.0 1151.4,1118.0" fill="#2ea464"/><polygon points="1176.1,1140.6 1180.1,1140.6 1189.0,1124.0 1167.2,1124.0" fill="#2ea464"/><polygon points="1191.8,1143.4 1195.8,1143.4 1204.7,1126.8 1182.9,1126.8" fill="#2ea464"/><polygon points="1207.6,1143.4 1211.6,1143.4 1220.5,1126.8 1198.7,1126.8" fill="#2ea464"/><polygon points="1223.4,1143.4 1227.4,1143.4 1236.3,1126.8 1214.5,1126.8" fill="#2ea464"/><polygon points="1239.1,1143.4 1243.1,1143.4 1252.0,1126.8 1230.2,1126.8" fill="#2ea464"/><polygon points="1254.9,1143.4 1258.9,1143.4 1267.8,1126.8 1246.0,1126.8" fill="#2ea464"/><polygon points="1270.6,1139.7 1274.6,1139.7 1283.5,1123.1 1261.7,1123.1" fill="#2ea464"/><polygon points="1286.4,1136.7 1290.4,1136.7 1299.3,1120.1 1277.5,1120.1" fill="#2ea464"/><polygon points="1302.2,1133.6 1306.2,1133.6 1315.1,1117.0 1293.3,1117.0" fill="#2ea464"/><polygon points="1317.9,1130.6 1321.9,1130.6 1330.8,1114.0 1309.0,1114.0" fill="#2ea464"/><polygon points="1333.7,1128.5 1337.7,1128.5 1346.6,1111.9 1324.8,1111.9" fill="#2ea464"/><polygon points="1349.5,1128.5 1353.5,1128.5 1362.4,1111.9 1340.6,1111.9" fill="#2ea464"/><polygon points="1365.2,1128.5 1369.2,1128.5 1378.1,1111.9 1356.3,1111.9" fill="#2ea464"/><polygon points="1381.0,1133.6 1385.0,1133.6 1393.9,1117.0 1372.1,1117.0" fill="#2ea464"/><polygon points="1396.7,1138.6 1400.7,1138.6 1409.6,1122.0 1387.8,1122.0" fill="#2ea464"/><polygon points="1412.5,1141.7 1416.5,1141.7 1425.4,1125.1 1403.6,1125.1" fill="#2ea464"/><polygon points="1428.3,1143.4 1432.3,1143.4 1441.2,1126.8 1419.4,1126.8" fill="#2ea464"/><polygon points="1444.0,1143.4 1448.0,1143.4 1456.9,1126.8 1435.1,1126.8" fill="#2ea464"/><polygon points="1459.8,1143.4 1463.8,1143.4 1472.7,1126.8 1450.9,1126.8" fill="#2ea464"/><polygon points="1475.6,1143.4 1479.6,1143.4 1488.5,1126.8 1466.7,1126.8" fill="#2ea464"/><polygon points="1491.3,1143.4 1495.3,1143.4 1504.2,1126.8 1482.4,1126.8" fill="#2ea464"/><polygon points="1507.1,1143.4 1511.1,1143.4 1520.0,1126.8 1498.2,1126.8" fill="#2ea464"/><polygon points="1522.8,1143.4 1526.8,1143.4 1535.7,1126.8 1513.9,1126.8" fill="#2ea464"/><polygon points="1538.6,1143.4 1542.6,1143.4 1551.5,1126.8 1529.7,1126.8" fill="#2ea464"/><polygon points="1554.4,1143.4 1558.4,1143.4 1567.3,1126.8 1545.5,1126.8" fill="#2ea464"/><polygon points="1570.1,1143.4 1574.1,1143.4 1583.0,1126.8 1561.2,1126.8" fill="#2ea464"/><polygon points="1585.9,1143.4 1589.9,1143.4 1598.8,1126.8 1577.0,1126.8" fill="#2ea464"/><polygon points="1601.7,1143.4 1605.7,1143.4 1614.6,1126.8 1592.8,1126.8" fill="#2ea464"/><polygon points="1617.4,1143.4 1621.4,1143.4 1630.3,1126.8 1608.5,1126.8" fill="#2ea464"/><polygon points="1633.2,1143.4 1637.2,1143.4 1646.1,1126.8 1624.3,1126.8" fill="#2ea464"/><polygon points="1648.9,1143.4 1652.9,1143.4 1661.8,1126.8 1640.0,1126.8" fill="#2ea464"/><polygon points="1664.7,1143.4 1668.7,1143.4 1677.6,1126.8 1655.8,1126.8" fill="#2ea464"/><polygon points="1680.5,1143.4 1684.5,1143.4 1693.4,1126.8 1671.6,1126.8" fill="#2ea464"/><polygon points="1696.2,1143.4 1700.2,1143.4 1709.1,1126.8 1687.3,1126.8" fill="#2ea464"/><polygon points="1712.0,1143.4 1716.0,1143.4 1724.9,1126.8 1703.1,1126.8" fill="#2ea464"/>
<path fill="none" stroke="#b26ede" stroke-width="6.5" d=""/>
<polygon points="151.1,1122.2 155.9,1122.2 155.9,1124.9 159.0,1124.9 159.0,1127.6 161.7,1127.6 161.7,1130.3 162.2,1130.3 162.2,1135.7 161.7,1135.7 161.7,1138.4 159.0,1138.4 159.0,1141.1 155.9,1141.1 155.9,1143.8 151.1,1143.8 151.1,1141.1 148.0,1141.1 148.0,1138.4 145.3,1138.4 145.3,1135.7 144.8,1135.7 144.8,1130.3 145.3,1130.3 145.3,1127.6 148.0,1127.6 148.0,1124.9 151.1,1124.9" fill="#b26ede"/><polygon points="166.8,1122.2 171.7,1122.2 171.7,1124.9 174.8,1124.9 174.8,1127.6 177.5,1127.6 177.5,1130.3 177.9,1130.3 177.9,1135.7 177.5,1135.7 177.5,1138.4 174.8,1138.4 174.8,1141.1 171.7,1141.1 171.7,1143.8 166.8,1143.8 166.8,1141.1 163.8,1141.1 163.8,1138.4 161.1,1138.4 161.1,1135.7 160.6,1135.7 160.6,1130.3 161.1,1130.3 161.1,1127.6 163.8,1127.6 163.8,1124.9 166.8,1124.9" fill="#b26ede"/><polygon points="182.6,1122.2 187.5,1122.2 187.5,1124.9 190.5,1124.9 190.5,1127.6 193.2,1127.6 193.2,1130.3 193.7,1130.3 193.7,1135.7 193.2,1135.7 193.2,1138.4 190.5,1138.4 190.5,1141.1 187.5,1141.1 187.5,1143.8 182.6,1143.8 182.6,1141.1 179.5,1141.1 179.5,1138.4 176.8,1138.4 176.8,1135.7 176.4,1135.7 176.4,1130.3 176.8,1130.3 176.8,1127.6 179.5,1127.6 179.5,1124.9 182.6,1124.9" fill="#b26ede"/><polygon points="198.3,1122.2 203.2,1122.2 203.2,1124.9 206.3,1124.9 206.3,1127.6 209.0,1127.6 209.0,1130.3 209.4,1130.3 209.4,1135.7 209.0,1135.7 209.0,1138.4 206.3,1138.4 206.3,1141.1 203.2,1141.1 203.2,1143.8 198.3,1143.8 198.3,1141.1 195.3,1141.1 195.3,1138.4 192.6,1138.4 192.6,1135.7 192.1,1135.7 192.1,1130.3 192.6,1130.3 192.6,1127.6 195.3,1127.6 195.3,1124.9 198.3,1124.9" fill="#b26ede"/><polygon points="214.1,1122.2 219.0,1122.2 219.0,1124.9 222.1,1124.9 222.1,1127.6 224.8,1127.6 224.8,1130.3 225.2,1130.3 225.2,1135.7 224.8,1135.7 224.8,1138.4 222.1,1138.4 222.1,1141.1 219.0,1141.1 219.0,1143.8 214.1,1143.8 214.1,1141.1 211.1,1141.1 211.1,1138.4 208.4,1138.4 208.4,1135.7 207.9,1135.7 207.9,1130.3 208.4,1130.3 208.4,1127.6 211.1,1127.6 211.1,1124.9 214.1,1124.9" fill="#b26ede"/><polygon points="229.9,1122.2 234.8,1122.2 234.8,1124.9 237.8,1124.9 237.8,1127.6 240.5,1127.6 240.5,1130.3 241.0,1130.3 241.0,1135.7 240.5,1135.7 240.5,1138.4 237.8,1138.4 237.8,1141.1 234.8,1141.1 234.8,1143.8 229.9,1143.8 229.9,1141.1 226.8,1141.1 226.8,1138.4 224.1,1138.4 224.1,1135.7 223.7,1135.7 223.7,1130.3 224.1,1130.3 224.1,1127.6 226.8,1127.6 226.8,1124.9 229.9,1124.9" fill="#b26ede"/><polygon points="245.6,1122.2 250.5,1122.2 250.5,1124.9 253.6,1124.9 253.6,1127.6 256.3,1127.6 256.3,1130.3 256.7,1130.3 256.7,1135.7 256.3,1135.7 256.3,1138.4 253.6,1138.4 253.6,1141.1 250.5,1141.1 250.5,1143.8 245.6,1143.8 245.6,1141.1 242.6,1141.1 242.6,1138.4 239.9,1138.4 239.9,1135.7 239.4,1135.7 239.4,1130.3 239.9,1130.3 239.9,1127.6 242.6,1127.6 242.6,1124.9 245.6,1124.9" fill="#b26ede"/><polygon points="261.4,1122.2 266.3,1122.2 266.3,1124.9 269.3,1124.9 269.3,1127.6 272.0,1127.6 272.0,1130.3 272.5,1130.3 272.5,1135.7 272.0,1135.7 272.0,1138.4 269.3,1138.4 269.3,1141.1 266.3,1141.1 266.3,1143.8 261.4,1143.8 261.4,1141.1 258.3,1141.1 258.3,1138.4 255.6,1138.4 255.6,1135.7 255.2,1135.7 255.2,1130.3 255.6,1130.3 255.6,1127.6 258.3,1127.6 258.3,1124.9 261.4,1124.9" fill="#b26ede"/><polygon points="277.2,1122.2 282.1,1122.2 282.1,1124.9 285.1,1124.9 285.1,1127.6 287.8,1127.6 287.8,1130.3 288.3,1130.3 288.3,1135.7 287.8,1135.7 287.8,1138.4 285.1,1138.4 285.1,1141.1 282.1,1141.1 282.1,1143.8 277.2,1143.8 277.2,1141.1 274.1,1141.1 274.1,1138.4 271.4,1138.4 271.4,1135.7 271.0,1135.7 271.0,1130.3 271.4,1130.3 271.4,1127.6 274.1,1127.6 274.1,1124.9 277.2,1124.9" fill="#b26ede"/><polygon points="292.9,1122.2 297.8,1122.2 297.8,1124.9 300.9,1124.9 300.9,1127.6 303.6,1127.6 303.6,1130.3 304.0,1130.3 304.0,1135.7 303.6,1135.7 303.6,1138.4 300.9,1138.4 300.9,1141.1 297.8,1141.1 297.8,1143.8 292.9,1143.8 292.9,1141.1 289.9,1141.1 289.9,1138.4 287.2,1138.4 287.2,1135.7 286.7,1135.7 286.7,1130.3 287.2,1130.3 287.2,1127.6 289.9,1127.6 289.9,1124.9 292.9,1124.9" fill="#b26ede"/><polygon points="308.7,1122.2 313.6,1122.2 313.6,1124.9 316.6,1124.9 316.6,1127.6 319.3,1127.6 319.3,1130.3 319.8,1130.3 319.8,1135.7 319.3,1135.7 319.3,1138.4 316.6,1138.4 316.6,1141.1 313.6,1141.1 313.6,1143.8 308.7,1143.8 308.7,1141.1 305.6,1141.1 305.6,1138.4 302.9,1138.4 302.9,1135.7 302.5,1135.7 302.5,1130.3 302.9,1130.3 302.9,1127.6 305.6,1127.6 305.6,1124.9 308.7,1124.9" fill="#b26ede"/><polygon points="324.4,1122.2 329.3,1122.2 329.3,1124.9 332.4,1124.9 332.4,1127.6 335.1,1127.6 335.1,1130.3 335.5,1130.3 335.5,1135.7 335.1,1135.7 335.1,1138.4 332.4,1138.4 332.4,1141.1 329.3,1141.1 329.3,1143.8 324.4,1143.8 324.4,1141.1 321.4,1141.1 321.4,1138.4 318.7,1138.4 318.7,1135.7 318.2,1135.7 318.2,1130.3 318.7,1130.3 318.7,1127.6 321.4,1127.6 321.4,1124.9 324.4,1124.9" fill="#b26ede"/><polygon points="340.2,1122.2 345.1,1122.2 345.1,1124.9 348.2,1124.9 348.2,1127.6 350.9,1127.6 350.9,1130.3 351.3,1130.3 351.3,1135.7 350.9,1135.7 350.9,1138.4 348.2,1138.4 348.2,1141.1 345.1,1141.1 345.1,1143.8 340.2,1143.8 340.2,1141.1 337.2,1141.1 337.2,1138.4 334.5,1138.4 334.5,1135.7 334.0,1135.7 334.0,1130.3 334.5,1130.3 334.5,1127.6 337.2,1127.6 337.2,1124.9 340.2,1124.9" fill="#b26ede"/><polygon points="356.0,1122.2 360.9,1122.2 360.9,1124.9 363.9,1124.9 363.9,1127.6 366.6,1127.6 366.6,1130.3 367.1,1130.3 367.1,1135.7 366.6,1135.7 366.6,1138.4 363.9,1138.4 363.9,1141.1 360.9,1141.1 360.9,1143.8 356.0,1143.8 356.0,1141.1 352.9,1141.1 352.9,1138.4 350.2,1138.4 350.2,1135.7 349.8,1135.7 349.8,1130.3 350.2,1130.3 350.2,1127.6 352.9,1127.6 352.9,1124.9 356.0,1124.9" fill="#b26ede"/><polygon points="371.7,1122.2 376.6,1122.2 376.6,1124.9 379.7,1124.9 379.7,1127.6 382.4,1127.6 382.4,1130.3 382.8,1130.3 382.8,1135.7 382.4,1135.7 382.4,1138.4 379.7,1138.4 379.7,1141.1 376.6,1141.1 376.6,1143.8 371.7,1143.8 371.7,1141.1 368.7,1141.1 368.7,1138.4 366.0,1138.4 366.0,1135.7 365.5,1135.7 365.5,1130.3 366.0,1130.3 366.0,1127.6 368.7,1127.6 368.7,1124.9 371.7,1124.9" fill="#b26ede"/><polygon points="387.5,1122.2 392.4,1122.2 392.4,1124.9 395.4,1124.9 395.4,1127.6 398.1,1127.6 398.1,1130.3 398.6,1130.3 398.6,1135.7 398.1,1135.7 398.1,1138.4 395.4,1138.4 395.4,1141.1 392.4,1141.1 392.4,1143.8 387.5,1143.8 387.5,1141.1 384.4,1141.1 384.4,1138.4 381.7,1138.4 381.7,1135.7 381.3,1135.7 381.3,1130.3 381.7,1130.3 381.7,1127.6 384.4,1127.6 384.4,1124.9 387.5,1124.9" fill="#b26ede"/><polygon points="403.3,1122.2 408.2,1122.2 408.2,1124.9 411.2,1124.9 411.2,1127.6 413.9,1127.6 413.9,1130.3 414.4,1130.3 414.4,1135.7 413.9,1135.7 413.9,1138.4 411.2,1138.4 411.2,1141.1 408.2,1141.1 408.2,1143.8 403.3,1143.8 403.3,1141.1 400.2,1141.1 400.2,1138.4 397.5,1138.4 397.5,1135.7 397.1,1135.7 397.1,1130.3 397.5,1130.3 397.5,1127.6 400.2,1127.6 400.2,1124.9 403.3,1124.9" fill="#b26ede"/><polygon points="419.0,1122.2 423.9,1122.2 423.9,1124.9 427.0,1124.9 427.0,1127.6 429.7,1127.6 429.7,1130.3 430.1,1130.3 430.1,1135.7 429.7,1135.7 429.7,1138.4 427.0,1138.4 427.0,1141.1 423.9,1141.1 423.9,1143.8 419.0,1143.8 419.0,1141.1 416.0,1141.1 416.0,1138.4 413.3,1138.4 413.3,1135.7 412.8,1135.7 412.8,1130.3 413.3,1130.3 413.3,1127.6 416.0,1127.6 416.0,1124.9 419.0,1124.9" fill="#b26ede"/><polygon points="434.8,1120.4 439.7,1120.4 439.7,1123.2 442.7,1123.2 442.7,1125.9 445.4,1125.9 445.4,1128.6 445.9,1128.6 445.9,1134.0 445.4,1134.0 445.4,1136.7 442.7,1136.7 442.7,1139.4 439.7,1139.4 439.7,1142.1 434.8,1142.1 434.8,1139.4 431.7,1139.4 431.7,1136.7 429.0,1136.7 429.0,1134.0 428.6,1134.0 428.6,1128.6 429.0,1128.6 429.0,1125.9 431.7,1125.9 431.7,1123.2 434.8,1123.2" fill="#b26ede"/><polygon points="450.5,1117.9 455.4,1117.9 455.4,1120.7 458.5,1120.7 458.5,1123.4 461.2,1123.4 461.2,1126.1 461.6,1126.1 461.6,1131.5 461.2,1131.5 461.2,1134.2 458.5,1134.2 458.5,1136.9 455.4,1136.9 455.4,1139.6 450.5,1139.6 450.5,1136.9 447.5,1136.9 447.5,1134.2 444.8,1134.2 444.8,1131.5 444.3,1131.5 444.3,1126.1 444.8,1126.1 444.8,1123.4 447.5,1123.4 447.5,1120.7 450.5,1120.7" fill="#b26ede"/><polygon points="466.3,1113.9 471.2,1113.9 471.2,1116.7 474.3,1116.7 474.3,1119.4 477.0,1119.4 477.0,1122.1 477.4,1122.1 477.4,1127.5 477.0,1127.5 477.0,1130.2 474.3,1130.2 474.3,1132.9 471.2,1132.9 471.2,1135.6 466.3,1135.6 466.3,1132.9 463.3,1132.9 463.3,1130.2 460.6,1130.2 460.6,1127.5 460.1,1127.5 460.1,1122.1 460.6,1122.1 460.6,1119.4 463.3,1119.4 463.3,1116.7 466.3,1116.7" fill="#b26ede"/><polygon points="482.1,1107.9 487.0,1107.9 487.0,1110.6 490.0,1110.6 490.0,1113.3 492.7,1113.3 492.7,1116.0 493.2,1116.0 493.2,1121.4 492.7,1121.4 492.7,1124.1 490.0,1124.1 490.0,1126.8 487.0,1126.8 487.0,1129.6 482.1,1129.6 482.1,1126.8 479.0,1126.8 479.0,1124.1 476.3,1124.1 476.3,1121.4 475.9,1121.4 475.9,1116.0 476.3,1116.0 476.3,1113.3 479.0,1113.3 479.0,1110.6 482.1,1110.6" fill="#b26ede"/><polygon points="497.8,1100.8 502.7,1100.8 502.7,1103.6 505.8,1103.6 505.8,1106.3 508.5,1106.3 508.5,1109.0 508.9,1109.0 508.9,1114.4 508.5,1114.4 508.5,1117.1 505.8,1117.1 505.8,1119.8 502.7,1119.8 502.7,1122.5 497.8,1122.5 497.8,1119.8 494.8,1119.8 494.8,1117.1 492.1,1117.1 492.1,1114.4 491.6,1114.4 491.6,1109.0 492.1,1109.0 492.1,1106.3 494.8,1106.3 494.8,1103.6 497.8,1103.6" fill="#b26ede"/><polygon points="513.6,1091.7 518.5,1091.7 518.5,1094.5 521.5,1094.5 521.5,1097.2 524.2,1097.2 524.2,1099.9 524.7,1099.9 524.7,1105.3 524.2,1105.3 524.2,1108.0 521.5,1108.0 521.5,1110.7 518.5,1110.7 518.5,1113.4 513.6,1113.4 513.6,1110.7 510.5,1110.7 510.5,1108.0 507.8,1108.0 507.8,1105.3 507.4,1105.3 507.4,1099.9 507.8,1099.9 507.8,1097.2 510.5,1097.2 510.5,1094.5 513.6,1094.5" fill="#b26ede"/><polygon points="529.4,1082.7 534.3,1082.7 534.3,1085.4 537.3,1085.4 537.3,1088.1 540.0,1088.1 540.0,1090.8 540.5,1090.8 540.5,1096.2 540.0,1096.2 540.0,1098.9 537.3,1098.9 537.3,1101.6 534.3,1101.6 534.3,1104.4 529.4,1104.4 529.4,1101.6 526.3,1101.6 526.3,1098.9 523.6,1098.9 523.6,1096.2 523.2,1096.2 523.2,1090.8 523.6,1090.8 523.6,1088.1 526.3,1088.1 526.3,1085.4 529.4,1085.4" fill="#b26ede"/><polygon points="545.1,1071.6 550.0,1071.6 550.0,1074.4 553.1,1074.4 553.1,1077.1 555.8,1077.1 555.8,1079.8 556.2,1079.8 556.2,1085.2 555.8,1085.2 555.8,1087.9 553.1,1087.9 553.1,1090.6 550.0,1090.6 550.0,1093.3 545.1,1093.3 545.1,1090.6 542.1,1090.6 542.1,1087.9 539.4,1087.9 539.4,1085.2 538.9,1085.2 538.9,1079.8 539.4,1079.8 539.4,1077.1 542.1,1077.1 542.1,1074.4 545.1,1074.4" fill="#b26ede"/><polygon points="560.9,1059.5 565.8,1059.5 565.8,1062.3 568.8,1062.3 568.8,1065.0 571.5,1065.0 571.5,1067.7 572.0,1067.7 572.0,1073.1 571.5,1073.1 571.5,1075.8 568.8,1075.8 568.8,1078.5 565.8,1078.5 565.8,1081.2 560.9,1081.2 560.9,1078.5 557.8,1078.5 557.8,1075.8 555.1,1075.8 555.1,1073.1 554.7,1073.1 554.7,1067.7 555.1,1067.7 555.1,1065.0 557.8,1065.0 557.8,1062.3 560.9,1062.3" fill="#b26ede"/><polygon points="576.6,1046.4 581.5,1046.4 581.5,1049.1 584.6,1049.1 584.6,1051.8 587.3,1051.8 587.3,1054.5 587.7,1054.5 587.7,1059.9 587.3,1059.9 587.3,1062.6 584.6,1062.6 584.6,1065.3 581.5,1065.3 581.5,1068.1 576.6,1068.1 576.6,1065.3 573.6,1065.3 573.6,1062.6 570.9,1062.6 570.9,1059.9 570.4,1059.9 570.4,1054.5 570.9,1054.5 570.9,1051.8 573.6,1051.8 573.6,1049.1 576.6,1049.1" fill="#b26ede"/><polygon points="592.4,1035.2 597.3,1035.2 597.3,1038.0 600.4,1038.0 600.4,1040.7 603.1,1040.7 603.1,1043.4 603.5,1043.4 603.5,1048.8 603.1,1048.8 603.1,1051.5 600.4,1051.5 600.4,1054.2 597.3,1054.2 597.3,1056.9 592.4,1056.9 592.4,1054.2 589.4,1054.2 589.4,1051.5 586.7,1051.5 586.7,1048.8 586.2,1048.8 586.2,1043.4 586.7,1043.4 586.7,1040.7 589.4,1040.7 589.4,1038.0 592.4,1038.0" fill="#b26ede"/><polygon points="608.2,1024.2 613.1,1024.2 613.1,1026.9 616.1,1026.9 616.1,1029.6 618.8,1029.6 618.8,1032.3 619.3,1032.3 619.3,1037.7 618.8,1037.7 618.8,1040.4 616.1,1040.4 616.1,1043.1 613.1,1043.1 613.1,1045.9 608.2,1045.9 608.2,1043.1 605.1,1043.1 605.1,1040.4 602.4,1040.4 602.4,1037.7 602.0,1037.7 602.0,1032.3 602.4,1032.3 602.4,1029.6 605.1,1029.6 605.1,1026.9 608.2,1026.9" fill="#b26ede"/><polygon points="623.9,1013.0 628.8,1013.0 628.8,1015.8 631.9,1015.8 631.9,1018.5 634.6,1018.5 634.6,1021.2 635.0,1021.2 635.0,1026.6 634.6,1026.6 634.6,1029.3 631.9,1029.3 631.9,1032.0 628.8,1032.0 628.8,1034.7 623.9,1034.7 623.9,1032.0 620.9,1032.0 620.9,1029.3 618.2,1029.3 618.2,1026.6 617.7,1026.6 617.7,1021.2 618.2,1021.2 618.2,1018.5 620.9,1018.5 620.9,1015.8 623.9,1015.8" fill="#b26ede"/><polygon points="639.7,1002.9 644.6,1002.9 644.6,1005.7 647.6,1005.7 647.6,1008.4 650.3,1008.4 650.3,1011.1 650.8,1011.1 650.8,1016.5 650.3,1016.5 650.3,1019.2 647.6,1019.2 647.6,1021.9 644.6,1021.9 644.6,1024.6 639.7,1024.6 639.7,1021.9 636.6,1021.9 636.6,1019.2 633.9,1019.2 633.9,1016.5 633.5,1016.5 633.5,1011.1 633.9,1011.1 633.9,1008.4 636.6,1008.4 636.6,1005.7 639.7,1005.7" fill="#b26ede"/><polygon points="655.5,995.9 660.4,995.9 660.4,998.7 663.4,998.7 663.4,1001.4 666.1,1001.4 666.1,1004.1 666.6,1004.1 666.6,1009.5 666.1,1009.5 666.1,1012.2 663.4,1012.2 663.4,1014.9 660.4,1014.9 660.4,1017.6 655.5,1017.6 655.5,1014.9 652.4,1014.9 652.4,1012.2 649.7,1012.2 649.7,1009.5 649.3,1009.5 649.3,1004.1 649.7,1004.1 649.7,1001.4 652.4,1001.4 652.4,998.7 655.5,998.7" fill="#b26ede"/><polygon points="671.2,990.8 676.1,990.8 676.1,993.6 679.2,993.6 679.2,996.3 681.9,996.3 681.9,999.0 682.3,999.0 682.3,1004.4 681.9,1004.4 681.9,1007.1 679.2,1007.1 679.2,1009.8 676.1,1009.8 676.1,1012.5 671.2,1012.5 671.2,1009.8 668.2,1009.8 668.2,1007.1 665.5,1007.1 665.5,1004.4 665.0,1004.4 665.0,999.0 665.5,999.0 665.5,996.3 668.2,996.3 668.2,993.6 671.2,993.6" fill="#b26ede"/><polygon points="687.0,987.9 691.9,987.9 691.9,990.6 694.9,990.6 694.9,993.3 697.6,993.3 697.6,996.0 698.1,996.0 698.1,1001.4 697.6,1001.4 697.6,1004.1 694.9,1004.1 694.9,1006.8 691.9,1006.8 691.9,1009.6 687.0,1009.6 687.0,1006.8 683.9,1006.8 683.9,1004.1 681.2,1004.1 681.2,1001.4 680.8,1001.4 680.8,996.0 681.2,996.0 681.2,993.3 683.9,993.3 683.9,990.6 687.0,990.6" fill="#b26ede"/><polygon points="702.7,985.8 707.6,985.8 707.6,988.6 710.7,988.6 710.7,991.3 713.4,991.3 713.4,994.0 713.8,994.0 713.8,999.4 713.4,999.4 713.4,1002.1 710.7,1002.1 710.7,1004.8 707.6,1004.8 707.6,1007.5 702.7,1007.5 702.7,1004.8 699.7,1004.8 699.7,1002.1 697.0,1002.1 697.0,999.4 696.5,999.4 696.5,994.0 697.0,994.0 697.0,991.3 699.7,991.3 699.7,988.6 702.7,988.6" fill="#b26ede"/><polygon points="718.5,986.8 723.4,986.8 723.4,989.6 726.5,989.6 726.5,992.3 729.2,992.3 729.2,995.0 729.6,995.0 729.6,1000.4 729.2,1000.4 729.2,1003.1 726.5,1003.1 726.5,1005.8 723.4,1005.8 723.4,1008.5 718.5,1008.5 718.5,1005.8 715.5,1005.8 715.5,1003.1 712.8,1003.1 712.8,1000.4 712.3,1000.4 712.3,995.0 712.8,995.0 712.8,992.3 715.5,992.3 715.5,989.6 718.5,989.6" fill="#b26ede"/><polygon points="734.3,988.8 739.2,988.8 739.2,991.6 742.2,991.6 742.2,994.3 744.9,994.3 744.9,997.0 745.4,997.0 745.4,1002.4 744.9,1002.4 744.9,1005.1 742.2,1005.1 742.2,1007.8 739.2,1007.8 739.2,1010.5 734.3,1010.5 734.3,1007.8 731.2,1007.8 731.2,1005.1 728.5,1005.1 728.5,1002.4 728.1,1002.4 728.1,997.0 728.5,997.0 728.5,994.3 731.2,994.3 731.2,991.6 734.3,991.6" fill="#b26ede"/><polygon points="750.0,991.9 754.9,991.9 754.9,994.6 758.0,994.6 758.0,997.3 760.7,997.3 760.7,1000.0 761.1,1000.0 761.1,1005.4 760.7,1005.4 760.7,1008.1 758.0,1008.1 758.0,1010.8 754.9,1010.8 754.9,1013.6 750.0,1013.6 750.0,1010.8 747.0,1010.8 747.0,1008.1 744.3,1008.1 744.3,1005.4 743.8,1005.4 743.8,1000.0 744.3,1000.0 744.3,997.3 747.0,997.3 747.0,994.6 750.0,994.6" fill="#b26ede"/><polygon points="765.8,995.9 770.7,995.9 770.7,998.7 773.7,998.7 773.7,1001.4 776.4,1001.4 776.4,1004.1 776.9,1004.1 776.9,1009.5 776.4,1009.5 776.4,1012.2 773.7,1012.2 773.7,1014.9 770.7,1014.9 770.7,1017.6 765.8,1017.6 765.8,1014.9 762.7,1014.9 762.7,1012.2 760.0,1012.2 760.0,1009.5 759.6,1009.5 759.6,1004.1 760.0,1004.1 760.0,1001.4 762.7,1001.4 762.7,998.7 765.8,998.7" fill="#b26ede"/><polygon points="781.6,1002.5 786.5,1002.5 786.5,1005.2 789.5,1005.2 789.5,1007.9 792.2,1007.9 792.2,1010.6 792.7,1010.6 792.7,1016.0 792.2,1016.0 792.2,1018.7 789.5,1018.7 789.5,1021.4 786.5,1021.4 786.5,1024.2 781.6,1024.2 781.6,1021.4 778.5,1021.4 778.5,1018.7 775.8,1018.7 775.8,1016.0 775.4,1016.0 775.4,1010.6 775.8,1010.6 775.8,1007.9 778.5,1007.9 778.5,1005.2 781.6,1005.2" fill="#b26ede"/><polygon points="797.3,1006.5 802.2,1006.5 802.2,1009.3 805.3,1009.3 805.3,1012.0 808.0,1012.0 808.0,1014.7 808.4,1014.7 808.4,1020.1 808.0,1020.1 808.0,1022.8 805.3,1022.8 805.3,1025.5 802.2,1025.5 802.2,1028.2 797.3,1028.2 797.3,1025.5 794.3,1025.5 794.3,1022.8 791.6,1022.8 791.6,1020.1 791.1,1020.1 791.1,1014.7 791.6,1014.7 791.6,1012.0 794.3,1012.0 794.3,1009.3 797.3,1009.3" fill="#b26ede"/><polygon points="813.1,1010.1 818.0,1010.1 818.0,1012.8 821.0,1012.8 821.0,1015.5 823.7,1015.5 823.7,1018.2 824.2,1018.2 824.2,1023.6 823.7,1023.6 823.7,1026.3 821.0,1026.3 821.0,1029.0 818.0,1029.0 818.0,1031.8 813.1,1031.8 813.1,1029.0 810.0,1029.0 810.0,1026.3 807.3,1026.3 807.3,1023.6 806.9,1023.6 806.9,1018.2 807.3,1018.2 807.3,1015.5 810.0,1015.5 810.0,1012.8 813.1,1012.8" fill="#b26ede"/><polygon points="828.8,1015.0 833.7,1015.0 833.7,1017.8 836.8,1017.8 836.8,1020.5 839.5,1020.5 839.5,1023.2 839.9,1023.2 839.9,1028.6 839.5,1028.6 839.5,1031.3 836.8,1031.3 836.8,1034.0 833.7,1034.0 833.7,1036.7 828.8,1036.7 828.8,1034.0 825.8,1034.0 825.8,1031.3 823.1,1031.3 823.1,1028.6 822.6,1028.6 822.6,1023.2 823.1,1023.2 823.1,1020.5 825.8,1020.5 825.8,1017.8 828.8,1017.8" fill="#b26ede"/><polygon points="844.6,1019.2 849.5,1019.2 849.5,1021.9 852.6,1021.9 852.6,1024.6 855.3,1024.6 855.3,1027.3 855.7,1027.3 855.7,1032.7 855.3,1032.7 855.3,1035.4 852.6,1035.4 852.6,1038.1 849.5,1038.1 849.5,1040.9 844.6,1040.9 844.6,1038.1 841.6,1038.1 841.6,1035.4 838.9,1035.4 838.9,1032.7 838.4,1032.7 838.4,1027.3 838.9,1027.3 838.9,1024.6 841.6,1024.6 841.6,1021.9 844.6,1021.9" fill="#b26ede"/><polygon points="860.4,1023.1 865.3,1023.1 865.3,1025.9 868.3,1025.9 868.3,1028.6 871.0,1028.6 871.0,1031.3 871.5,1031.3 871.5,1036.7 871.0,1036.7 871.0,1039.4 868.3,1039.4 868.3,1042.1 865.3,1042.1 865.3,1044.8 860.4,1044.8 860.4,1042.1 857.3,1042.1 857.3,1039.4 854.6,1039.4 854.6,1036.7 854.2,1036.7 854.2,1031.3 854.6,1031.3 854.6,1028.6 857.3,1028.6 857.3,1025.9 860.4,1025.9" fill="#b26ede"/><polygon points="876.1,1026.6 881.0,1026.6 881.0,1029.3 884.1,1029.3 884.1,1032.0 886.8,1032.0 886.8,1034.7 887.2,1034.7 887.2,1040.1 886.8,1040.1 886.8,1042.8 884.1,1042.8 884.1,1045.5 881.0,1045.5 881.0,1048.3 876.1,1048.3 876.1,1045.5 873.1,1045.5 873.1,1042.8 870.4,1042.8 870.4,1040.1 869.9,1040.1 869.9,1034.7 870.4,1034.7 870.4,1032.0 873.1,1032.0 873.1,1029.3 876.1,1029.3" fill="#b26ede"/><polygon points="891.9,1030.2 896.8,1030.2 896.8,1033.0 899.8,1033.0 899.8,1035.7 902.5,1035.7 902.5,1038.4 903.0,1038.4 903.0,1043.8 902.5,1043.8 902.5,1046.5 899.8,1046.5 899.8,1049.2 896.8,1049.2 896.8,1051.9 891.9,1051.9 891.9,1049.2 888.8,1049.2 888.8,1046.5 886.1,1046.5 886.1,1043.8 885.7,1043.8 885.7,1038.4 886.1,1038.4 886.1,1035.7 888.8,1035.7 888.8,1033.0 891.9,1033.0" fill="#b26ede"/><polygon points="907.7,1032.6 912.6,1032.6 912.6,1035.4 915.6,1035.4 915.6,1038.1 918.3,1038.1 918.3,1040.8 918.8,1040.8 918.8,1046.2 918.3,1046.2 918.3,1048.9 915.6,1048.9 915.6,1051.6 912.6,1051.6 912.6,1054.3 907.7,1054.3 907.7,1051.6 904.6,1051.6 904.6,1048.9 901.9,1048.9 901.9,1046.2 901.5,1046.2 901.5,1040.8 901.9,1040.8 901.9,1038.1 904.6,1038.1 904.6,1035.4 907.7,1035.4" fill="#b26ede"/><polygon points="923.4,1034.6 928.3,1034.6 928.3,1037.4 931.4,1037.4 931.4,1040.1 934.1,1040.1 934.1,1042.8 934.5,1042.8 934.5,1048.2 934.1,1048.2 934.1,1050.9 931.4,1050.9 931.4,1053.6 928.3,1053.6 928.3,1056.3 923.4,1056.3 923.4,1053.6 920.4,1053.6 920.4,1050.9 917.7,1050.9 917.7,1048.2 917.2,1048.2 917.2,1042.8 917.7,1042.8 917.7,1040.1 920.4,1040.1 920.4,1037.4 923.4,1037.4" fill="#b26ede"/><polygon points="939.2,1035.8 944.1,1035.8 944.1,1038.6 947.1,1038.6 947.1,1041.3 949.8,1041.3 949.8,1044.0 950.3,1044.0 950.3,1049.4 949.8,1049.4 949.8,1052.1 947.1,1052.1 947.1,1054.8 944.1,1054.8 944.1,1057.5 939.2,1057.5 939.2,1054.8 936.1,1054.8 936.1,1052.1 933.4,1052.1 933.4,1049.4 933.0,1049.4 933.0,1044.0 933.4,1044.0 933.4,1041.3 936.1,1041.3 936.1,1038.6 939.2,1038.6" fill="#b26ede"/><polygon points="954.9,1035.2 959.8,1035.2 959.8,1038.0 962.9,1038.0 962.9,1040.7 965.6,1040.7 965.6,1043.4 966.0,1043.4 966.0,1048.8 965.6,1048.8 965.6,1051.5 962.9,1051.5 962.9,1054.2 959.8,1054.2 959.8,1056.9 954.9,1056.9 954.9,1054.2 951.9,1054.2 951.9,1051.5 949.2,1051.5 949.2,1048.8 948.7,1048.8 948.7,1043.4 949.2,1043.4 949.2,1040.7 951.9,1040.7 951.9,1038.0 954.9,1038.0" fill="#b26ede"/><polygon points="970.7,1034.6 975.6,1034.6 975.6,1037.4 978.7,1037.4 978.7,1040.1 981.4,1040.1 981.4,1042.8 981.8,1042.8 981.8,1048.2 981.4,1048.2 981.4,1050.9 978.7,1050.9 978.7,1053.6 975.6,1053.6 975.6,1056.3 970.7,1056.3 970.7,1053.6 967.7,1053.6 967.7,1050.9 965.0,1050.9 965.0,1048.2 964.5,1048.2 964.5,1042.8 965.0,1042.8 965.0,1040.1 967.7,1040.1 967.7,1037.4 970.7,1037.4" fill="#b26ede"/><polygon points="986.5,1034.6 991.4,1034.6 991.4,1037.4 994.4,1037.4 994.4,1040.1 997.1,1040.1 997.1,1042.8 997.6,1042.8 997.6,1048.2 997.1,1048.2 997.1,1050.9 994.4,1050.9 994.4,1053.6 991.4,1053.6 991.4,1056.3 986.5,1056.3 986.5,1053.6 983.4,1053.6 983.4,1050.9 980.7,1050.9 980.7,1048.2 980.3,1048.2 980.3,1042.8 980.7,1042.8 980.7,1040.1 983.4,1040.1 983.4,1037.4 986.5,1037.4" fill="#b26ede"/><polygon points="1002.2,1035.2 1007.1,1035.2 1007.1,1038.0 1010.2,1038.0 1010.2,1040.7 1012.9,1040.7 1012.9,1043.4 1013.3,1043.4 1013.3,1048.8 1012.9,1048.8 1012.9,1051.5 1010.2,1051.5 1010.2,1054.2 1007.1,1054.2 1007.1,1056.9 1002.2,1056.9 1002.2,1054.2 999.2,1054.2 999.2,1051.5 996.5,1051.5 996.5,1048.8 996.0,1048.8 996.0,1043.4 996.5,1043.4 996.5,1040.7 999.2,1040.7 999.2,1038.0 1002.2,1038.0" fill="#b26ede"/><polygon points="1018.0,1039.3 1022.9,1039.3 1022.9,1042.0 1025.9,1042.0 1025.9,1044.7 1028.6,1044.7 1028.6,1047.4 1029.1,1047.4 1029.1,1052.8 1028.6,1052.8 1028.6,1055.5 1025.9,1055.5 1025.9,1058.2 1022.9,1058.2 1022.9,1061.0 1018.0,1061.0 1018.0,1058.2 1014.9,1058.2 1014.9,1055.5 1012.2,1055.5 1012.2,1052.8 1011.8,1052.8 1011.8,1047.4 1012.2,1047.4 1012.2,1044.7 1014.9,1044.7 1014.9,1042.0 1018.0,1042.0" fill="#b26ede"/><polygon points="1033.8,1044.4 1038.7,1044.4 1038.7,1047.1 1041.7,1047.1 1041.7,1049.8 1044.4,1049.8 1044.4,1052.5 1044.9,1052.5 1044.9,1057.9 1044.4,1057.9 1044.4,1060.6 1041.7,1060.6 1041.7,1063.3 1038.7,1063.3 1038.7,1066.1 1033.8,1066.1 1033.8,1063.3 1030.7,1063.3 1030.7,1060.6 1028.0,1060.6 1028.0,1057.9 1027.6,1057.9 1027.6,1052.5 1028.0,1052.5 1028.0,1049.8 1030.7,1049.8 1030.7,1047.1 1033.8,1047.1" fill="#b26ede"/><polygon points="1049.5,1050.4 1054.4,1050.4 1054.4,1053.2 1057.5,1053.2 1057.5,1055.9 1060.2,1055.9 1060.2,1058.6 1060.6,1058.6 1060.6,1064.0 1060.2,1064.0 1060.2,1066.7 1057.5,1066.7 1057.5,1069.4 1054.4,1069.4 1054.4,1072.1 1049.5,1072.1 1049.5,1069.4 1046.5,1069.4 1046.5,1066.7 1043.8,1066.7 1043.8,1064.0 1043.3,1064.0 1043.3,1058.6 1043.8,1058.6 1043.8,1055.9 1046.5,1055.9 1046.5,1053.2 1049.5,1053.2" fill="#b26ede"/><polygon points="1065.3,1058.5 1070.2,1058.5 1070.2,1061.2 1073.2,1061.2 1073.2,1063.9 1075.9,1063.9 1075.9,1066.6 1076.4,1066.6 1076.4,1072.0 1075.9,1072.0 1075.9,1074.7 1073.2,1074.7 1073.2,1077.4 1070.2,1077.4 1070.2,1080.2 1065.3,1080.2 1065.3,1077.4 1062.2,1077.4 1062.2,1074.7 1059.5,1074.7 1059.5,1072.0 1059.1,1072.0 1059.1,1066.6 1059.5,1066.6 1059.5,1063.9 1062.2,1063.9 1062.2,1061.2 1065.3,1061.2" fill="#b26ede"/><polygon points="1081.0,1069.5 1085.9,1069.5 1085.9,1072.3 1089.0,1072.3 1089.0,1075.0 1091.7,1075.0 1091.7,1077.7 1092.1,1077.7 1092.1,1083.1 1091.7,1083.1 1091.7,1085.8 1089.0,1085.8 1089.0,1088.5 1085.9,1088.5 1085.9,1091.2 1081.0,1091.2 1081.0,1088.5 1078.0,1088.5 1078.0,1085.8 1075.3,1085.8 1075.3,1083.1 1074.8,1083.1 1074.8,1077.7 1075.3,1077.7 1075.3,1075.0 1078.0,1075.0 1078.0,1072.3 1081.0,1072.3" fill="#b26ede"/><polygon points="1096.8,1081.6 1101.7,1081.6 1101.7,1084.4 1104.8,1084.4 1104.8,1087.1 1107.5,1087.1 1107.5,1089.8 1107.9,1089.8 1107.9,1095.2 1107.5,1095.2 1107.5,1097.9 1104.8,1097.9 1104.8,1100.6 1101.7,1100.6 1101.7,1103.3 1096.8,1103.3 1096.8,1100.6 1093.8,1100.6 1093.8,1097.9 1091.1,1097.9 1091.1,1095.2 1090.6,1095.2 1090.6,1089.8 1091.1,1089.8 1091.1,1087.1 1093.8,1087.1 1093.8,1084.4 1096.8,1084.4" fill="#b26ede"/><polygon points="1112.6,1095.5 1117.5,1095.5 1117.5,1098.3 1120.5,1098.3 1120.5,1101.0 1123.2,1101.0 1123.2,1103.7 1123.7,1103.7 1123.7,1109.1 1123.2,1109.1 1123.2,1111.8 1120.5,1111.8 1120.5,1114.5 1117.5,1114.5 1117.5,1117.2 1112.6,1117.2 1112.6,1114.5 1109.5,1114.5 1109.5,1111.8 1106.8,1111.8 1106.8,1109.1 1106.4,1109.1 1106.4,1103.7 1106.8,1103.7 1106.8,1101.0 1109.5,1101.0 1109.5,1098.3 1112.6,1098.3" fill="#b26ede"/><polygon points="1128.3,1112.1 1133.2,1112.1 1133.2,1114.9 1136.3,1114.9 1136.3,1117.6 1139.0,1117.6 1139.0,1120.3 1139.4,1120.3 1139.4,1125.7 1139.0,1125.7 1139.0,1128.4 1136.3,1128.4 1136.3,1131.1 1133.2,1131.1 1133.2,1133.8 1128.3,1133.8 1128.3,1131.1 1125.3,1131.1 1125.3,1128.4 1122.6,1128.4 1122.6,1125.7 1122.1,1125.7 1122.1,1120.3 1122.6,1120.3 1122.6,1117.6 1125.3,1117.6 1125.3,1114.9 1128.3,1114.9" fill="#b26ede"/><polygon points="1144.1,1121.3 1149.0,1121.3 1149.0,1124.0 1152.0,1124.0 1152.0,1126.7 1154.7,1126.7 1154.7,1129.4 1155.2,1129.4 1155.2,1134.8 1154.7,1134.8 1154.7,1137.5 1152.0,1137.5 1152.0,1140.2 1149.0,1140.2 1149.0,1143.0 1144.1,1143.0 1144.1,1140.2 1141.0,1140.2 1141.0,1137.5 1138.3,1137.5 1138.3,1134.8 1137.9,1134.8 1137.9,1129.4 1138.3,1129.4 1138.3,1126.7 1141.0,1126.7 1141.0,1124.0 1144.1,1124.0" fill="#b26ede"/><polygon points="1159.9,1122.2 1164.8,1122.2 1164.8,1124.9 1167.8,1124.9 1167.8,1127.6 1170.5,1127.6 1170.5,1130.3 1171.0,1130.3 1171.0,1135.7 1170.5,1135.7 1170.5,1138.4 1167.8,1138.4 1167.8,1141.1 1164.8,1141.1 1164.8,1143.8 1159.9,1143.8 1159.9,1141.1 1156.8,1141.1 1156.8,1138.4 1154.1,1138.4 1154.1,1135.7 1153.7,1135.7 1153.7,1130.3 1154.1,1130.3 1154.1,1127.6 1156.8,1127.6 1156.8,1124.9 1159.9,1124.9" fill="#b26ede"/><polygon points="1175.6,1122.2 1180.5,1122.2 1180.5,1124.9 1183.6,1124.9 1183.6,1127.6 1186.3,1127.6 1186.3,1130.3 1186.7,1130.3 1186.7,1135.7 1186.3,1135.7 1186.3,1138.4 1183.6,1138.4 1183.6,1141.1 1180.5,1141.1 1180.5,1143.8 1175.6,1143.8 1175.6,1141.1 1172.6,1141.1 1172.6,1138.4 1169.9,1138.4 1169.9,1135.7 1169.4,1135.7 1169.4,1130.3 1169.9,1130.3 1169.9,1127.6 1172.6,1127.6 1172.6,1124.9 1175.6,1124.9" fill="#b26ede"/><polygon points="1191.4,1122.2 1196.3,1122.2 1196.3,1124.9 1199.3,1124.9 1199.3,1127.6 1202.0,1127.6 1202.0,1130.3 1202.5,1130.3 1202.5,1135.7 1202.0,1135.7 1202.0,1138.4 1199.3,1138.4 1199.3,1141.1 1196.3,1141.1 1196.3,1143.8 1191.4,1143.8 1191.4,1141.1 1188.3,1141.1 1188.3,1138.4 1185.6,1138.4 1185.6,1135.7 1185.2,1135.7 1185.2,1130.3 1185.6,1130.3 1185.6,1127.6 1188.3,1127.6 1188.3,1124.9 1191.4,1124.9" fill="#b26ede"/><polygon points="1207.1,1122.2 1212.0,1122.2 1212.0,1124.9 1215.1,1124.9 1215.1,1127.6 1217.8,1127.6 1217.8,1130.3 1218.2,1130.3 1218.2,1135.7 1217.8,1135.7 1217.8,1138.4 1215.1,1138.4 1215.1,1141.1 1212.0,1141.1 1212.0,1143.8 1207.1,1143.8 1207.1,1141.1 1204.1,1141.1 1204.1,1138.4 1201.4,1138.4 1201.4,1135.7 1200.9,1135.7 1200.9,1130.3 1201.4,1130.3 1201.4,1127.6 1204.1,1127.6 1204.1,1124.9 1207.1,1124.9" fill="#b26ede"/><polygon points="1222.9,1122.2 1227.8,1122.2 1227.8,1124.9 1230.9,1124.9 1230.9,1127.6 1233.6,1127.6 1233.6,1130.3 1234.0,1130.3 1234.0,1135.7 1233.6,1135.7 1233.6,1138.4 1230.9,1138.4 1230.9,1141.1 1227.8,1141.1 1227.8,1143.8 1222.9,1143.8 1222.9,1141.1 1219.9,1141.1 1219.9,1138.4 1217.2,1138.4 1217.2,1135.7 1216.7,1135.7 1216.7,1130.3 1217.2,1130.3 1217.2,1127.6 1219.9,1127.6 1219.9,1124.9 1222.9,1124.9" fill="#b26ede"/><polygon points="1238.7,1122.2 1243.6,1122.2 1243.6,1124.9 1246.6,1124.9 1246.6,1127.6 1249.3,1127.6 1249.3,1130.3 1249.8,1130.3 1249.8,1135.7 1249.3,1135.7 1249.3,1138.4 1246.6,1138.4 1246.6,1141.1 1243.6,1141.1 1243.6,1143.8 1238.7,1143.8 1238.7,1141.1 1235.6,1141.1 1235.6,1138.4 1232.9,1138.4 1232.9,1135.7 1232.5,1135.7 1232.5,1130.3 1232.9,1130.3 1232.9,1127.6 1235.6,1127.6 1235.6,1124.9 1238.7,1124.9" fill="#b26ede"/><polygon points="1254.4,1122.2 1259.3,1122.2 1259.3,1124.9 1262.4,1124.9 1262.4,1127.6 1265.1,1127.6 1265.1,1130.3 1265.5,1130.3 1265.5,1135.7 1265.1,1135.7 1265.1,1138.4 1262.4,1138.4 1262.4,1141.1 1259.3,1141.1 1259.3,1143.8 1254.4,1143.8 1254.4,1141.1 1251.4,1141.1 1251.4,1138.4 1248.7,1138.4 1248.7,1135.7 1248.2,1135.7 1248.2,1130.3 1248.7,1130.3 1248.7,1127.6 1251.4,1127.6 1251.4,1124.9 1254.4,1124.9" fill="#b26ede"/><polygon points="1270.2,1122.2 1275.1,1122.2 1275.1,1124.9 1278.1,1124.9 1278.1,1127.6 1280.8,1127.6 1280.8,1130.3 1281.3,1130.3 1281.3,1135.7 1280.8,1135.7 1280.8,1138.4 1278.1,1138.4 1278.1,1141.1 1275.1,1141.1 1275.1,1143.8 1270.2,1143.8 1270.2,1141.1 1267.1,1141.1 1267.1,1138.4 1264.4,1138.4 1264.4,1135.7 1264.0,1135.7 1264.0,1130.3 1264.4,1130.3 1264.4,1127.6 1267.1,1127.6 1267.1,1124.9 1270.2,1124.9" fill="#b26ede"/><polygon points="1286.0,1122.2 1290.9,1122.2 1290.9,1124.9 1293.9,1124.9 1293.9,1127.6 1296.6,1127.6 1296.6,1130.3 1297.1,1130.3 1297.1,1135.7 1296.6,1135.7 1296.6,1138.4 1293.9,1138.4 1293.9,1141.1 1290.9,1141.1 1290.9,1143.8 1286.0,1143.8 1286.0,1141.1 1282.9,1141.1 1282.9,1138.4 1280.2,1138.4 1280.2,1135.7 1279.8,1135.7 1279.8,1130.3 1280.2,1130.3 1280.2,1127.6 1282.9,1127.6 1282.9,1124.9 1286.0,1124.9" fill="#b26ede"/><polygon points="1301.7,1122.2 1306.6,1122.2 1306.6,1124.9 1309.7,1124.9 1309.7,1127.6 1312.4,1127.6 1312.4,1130.3 1312.8,1130.3 1312.8,1135.7 1312.4,1135.7 1312.4,1138.4 1309.7,1138.4 1309.7,1141.1 1306.6,1141.1 1306.6,1143.8 1301.7,1143.8 1301.7,1141.1 1298.7,1141.1 1298.7,1138.4 1296.0,1138.4 1296.0,1135.7 1295.5,1135.7 1295.5,1130.3 1296.0,1130.3 1296.0,1127.6 1298.7,1127.6 1298.7,1124.9 1301.7,1124.9" fill="#b26ede"/><polygon points="1317.5,1122.2 1322.4,1122.2 1322.4,1124.9 1325.4,1124.9 1325.4,1127.6 1328.1,1127.6 1328.1,1130.3 1328.6,1130.3 1328.6,1135.7 1328.1,1135.7 1328.1,1138.4 1325.4,1138.4 1325.4,1141.1 1322.4,1141.1 1322.4,1143.8 1317.5,1143.8 1317.5,1141.1 1314.4,1141.1 1314.4,1138.4 1311.7,1138.4 1311.7,1135.7 1311.3,1135.7 1311.3,1130.3 1311.7,1130.3 1311.7,1127.6 1314.4,1127.6 1314.4,1124.9 1317.5,1124.9" fill="#b26ede"/><polygon points="1333.2,1122.2 1338.1,1122.2 1338.1,1124.9 1341.2,1124.9 1341.2,1127.6 1343.9,1127.6 1343.9,1130.3 1344.3,1130.3 1344.3,1135.7 1343.9,1135.7 1343.9,1138.4 1341.2,1138.4 1341.2,1141.1 1338.1,1141.1 1338.1,1143.8 1333.2,1143.8 1333.2,1141.1 1330.2,1141.1 1330.2,1138.4 1327.5,1138.4 1327.5,1135.7 1327.0,1135.7 1327.0,1130.3 1327.5,1130.3 1327.5,1127.6 1330.2,1127.6 1330.2,1124.9 1333.2,1124.9" fill="#b26ede"/><polygon points="1349.0,1122.2 1353.9,1122.2 1353.9,1124.9 1357.0,1124.9 1357.0,1127.6 1359.7,1127.6 1359.7,1130.3 1360.1,1130.3 1360.1,1135.7 1359.7,1135.7 1359.7,1138.4 1357.0,1138.4 1357.0,1141.1 1353.9,1141.1 1353.9,1143.8 1349.0,1143.8 1349.0,1141.1 1346.0,1141.1 1346.0,1138.4 1343.3,1138.4 1343.3,1135.7 1342.8,1135.7 1342.8,1130.3 1343.3,1130.3 1343.3,1127.6 1346.0,1127.6 1346.0,1124.9 1349.0,1124.9" fill="#b26ede"/><polygon points="1364.8,1122.2 1369.7,1122.2 1369.7,1124.9 1372.7,1124.9 1372.7,1127.6 1375.4,1127.6 1375.4,1130.3 1375.9,1130.3 1375.9,1135.7 1375.4,1135.7 1375.4,1138.4 1372.7,1138.4 1372.7,1141.1 1369.7,1141.1 1369.7,1143.8 1364.8,1143.8 1364.8,1141.1 1361.7,1141.1 1361.7,1138.4 1359.0,1138.4 1359.0,1135.7 1358.6,1135.7 1358.6,1130.3 1359.0,1130.3 1359.0,1127.6 1361.7,1127.6 1361.7,1124.9 1364.8,1124.9" fill="#b26ede"/><polygon points="1380.5,1122.2 1385.4,1122.2 1385.4,1124.9 1388.5,1124.9 1388.5,1127.6 1391.2,1127.6 1391.2,1130.3 1391.6,1130.3 1391.6,1135.7 1391.2,1135.7 1391.2,1138.4 1388.5,1138.4 1388.5,1141.1 1385.4,1141.1 1385.4,1143.8 1380.5,1143.8 1380.5,1141.1 1377.5,1141.1 1377.5,1138.4 1374.8,1138.4 1374.8,1135.7 1374.3,1135.7 1374.3,1130.3 1374.8,1130.3 1374.8,1127.6 1377.5,1127.6 1377.5,1124.9 1380.5,1124.9" fill="#b26ede"/><polygon points="1396.3,1122.2 1401.2,1122.2 1401.2,1124.9 1404.2,1124.9 1404.2,1127.6 1406.9,1127.6 1406.9,1130.3 1407.4,1130.3 1407.4,1135.7 1406.9,1135.7 1406.9,1138.4 1404.2,1138.4 1404.2,1141.1 1401.2,1141.1 1401.2,1143.8 1396.3,1143.8 1396.3,1141.1 1393.2,1141.1 1393.2,1138.4 1390.5,1138.4 1390.5,1135.7 1390.1,1135.7 1390.1,1130.3 1390.5,1130.3 1390.5,1127.6 1393.2,1127.6 1393.2,1124.9 1396.3,1124.9" fill="#b26ede"/><polygon points="1412.1,1122.2 1417.0,1122.2 1417.0,1124.9 1420.0,1124.9 1420.0,1127.6 1422.7,1127.6 1422.7,1130.3 1423.2,1130.3 1423.2,1135.7 1422.7,1135.7 1422.7,1138.4 1420.0,1138.4 1420.0,1141.1 1417.0,1141.1 1417.0,1143.8 1412.1,1143.8 1412.1,1141.1 1409.0,1141.1 1409.0,1138.4 1406.3,1138.4 1406.3,1135.7 1405.9,1135.7 1405.9,1130.3 1406.3,1130.3 1406.3,1127.6 1409.0,1127.6 1409.0,1124.9 1412.1,1124.9" fill="#b26ede"/><polygon points="1427.8,1122.2 1432.7,1122.2 1432.7,1124.9 1435.8,1124.9 1435.8,1127.6 1438.5,1127.6 1438.5,1130.3 1438.9,1130.3 1438.9,1135.7 1438.5,1135.7 1438.5,1138.4 1435.8,1138.4 1435.8,1141.1 1432.7,1141.1 1432.7,1143.8 1427.8,1143.8 1427.8,1141.1 1424.8,1141.1 1424.8,1138.4 1422.1,1138.4 1422.1,1135.7 1421.6,1135.7 1421.6,1130.3 1422.1,1130.3 1422.1,1127.6 1424.8,1127.6 1424.8,1124.9 1427.8,1124.9" fill="#b26ede"/><polygon points="1443.6,1122.2 1448.5,1122.2 1448.5,1124.9 1451.5,1124.9 1451.5,1127.6 1454.2,1127.6 1454.2,1130.3 1454.7,1130.3 1454.7,1135.7 1454.2,1135.7 1454.2,1138.4 1451.5,1138.4 1451.5,1141.1 1448.5,1141.1 1448.5,1143.8 1443.6,1143.8 1443.6,1141.1 1440.5,1141.1 1440.5,1138.4 1437.8,1138.4 1437.8,1135.7 1437.4,1135.7 1437.4,1130.3 1437.8,1130.3 1437.8,1127.6 1440.5,1127.6 1440.5,1124.9 1443.6,1124.9" fill="#b26ede"/><polygon points="1459.3,1122.2 1464.2,1122.2 1464.2,1124.9 1467.3,1124.9 1467.3,1127.6 1470.0,1127.6 1470.0,1130.3 1470.4,1130.3 1470.4,1135.7 1470.0,1135.7 1470.0,1138.4 1467.3,1138.4 1467.3,1141.1 1464.2,1141.1 1464.2,1143.8 1459.3,1143.8 1459.3,1141.1 1456.3,1141.1 1456.3,1138.4 1453.6,1138.4 1453.6,1135.7 1453.1,1135.7 1453.1,1130.3 1453.6,1130.3 1453.6,1127.6 1456.3,1127.6 1456.3,1124.9 1459.3,1124.9" fill="#b26ede"/><polygon points="1475.1,1122.2 1480.0,1122.2 1480.0,1124.9 1483.1,1124.9 1483.1,1127.6 1485.8,1127.6 1485.8,1130.3 1486.2,1130.3 1486.2,1135.7 1485.8,1135.7 1485.8,1138.4 1483.1,1138.4 1483.1,1141.1 1480.0,1141.1 1480.0,1143.8 1475.1,1143.8 1475.1,1141.1 1472.1,1141.1 1472.1,1138.4 1469.4,1138.4 1469.4,1135.7 1468.9,1135.7 1468.9,1130.3 1469.4,1130.3 1469.4,1127.6 1472.1,1127.6 1472.1,1124.9 1475.1,1124.9" fill="#b26ede"/><polygon points="1490.9,1122.2 1495.8,1122.2 1495.8,1124.9 1498.8,1124.9 1498.8,1127.6 1501.5,1127.6 1501.5,1130.3 1502.0,1130.3 1502.0,1135.7 1501.5,1135.7 1501.5,1138.4 1498.8,1138.4 1498.8,1141.1 1495.8,1141.1 1495.8,1143.8 1490.9,1143.8 1490.9,1141.1 1487.8,1141.1 1487.8,1138.4 1485.1,1138.4 1485.1,1135.7 1484.7,1135.7 1484.7,1130.3 1485.1,1130.3 1485.1,1127.6 1487.8,1127.6 1487.8,1124.9 1490.9,1124.9" fill="#b26ede"/><polygon points="1506.6,1122.2 1511.5,1122.2 1511.5,1124.9 1514.6,1124.9 1514.6,1127.6 1517.3,1127.6 1517.3,1130.3 1517.7,1130.3 1517.7,1135.7 1517.3,1135.7 1517.3,1138.4 1514.6,1138.4 1514.6,1141.1 1511.5,1141.1 1511.5,1143.8 1506.6,1143.8 1506.6,1141.1 1503.6,1141.1 1503.6,1138.4 1500.9,1138.4 1500.9,1135.7 1500.4,1135.7 1500.4,1130.3 1500.9,1130.3 1500.9,1127.6 1503.6,1127.6 1503.6,1124.9 1506.6,1124.9" fill="#b26ede"/><polygon points="1522.4,1122.2 1527.3,1122.2 1527.3,1124.9 1530.3,1124.9 1530.3,1127.6 1533.0,1127.6 1533.0,1130.3 1533.5,1130.3 1533.5,1135.7 1533.0,1135.7 1533.0,1138.4 1530.3,1138.4 1530.3,1141.1 1527.3,1141.1 1527.3,1143.8 1522.4,1143.8 1522.4,1141.1 1519.3,1141.1 1519.3,1138.4 1516.6,1138.4 1516.6,1135.7 1516.2,1135.7 1516.2,1130.3 1516.6,1130.3 1516.6,1127.6 1519.3,1127.6 1519.3,1124.9 1522.4,1124.9" fill="#b26ede"/><polygon points="1538.2,1122.2 1543.1,1122.2 1543.1,1124.9 1546.1,1124.9 1546.1,1127.6 1548.8,1127.6 1548.8,1130.3 1549.3,1130.3 1549.3,1135.7 1548.8,1135.7 1548.8,1138.4 1546.1,1138.4 1546.1,1141.1 1543.1,1141.1 1543.1,1143.8 1538.2,1143.8 1538.2,1141.1 1535.1,1141.1 1535.1,1138.4 1532.4,1138.4 1532.4,1135.7 1532.0,1135.7 1532.0,1130.3 1532.4,1130.3 1532.4,1127.6 1535.1,1127.6 1535.1,1124.9 1538.2,1124.9" fill="#b26ede"/><polygon points="1553.9,1122.2 1558.8,1122.2 1558.8,1124.9 1561.9,1124.9 1561.9,1127.6 1564.6,1127.6 1564.6,1130.3 1565.0,1130.3 1565.0,1135.7 1564.6,1135.7 1564.6,1138.4 1561.9,1138.4 1561.9,1141.1 1558.8,1141.1 1558.8,1143.8 1553.9,1143.8 1553.9,1141.1 1550.9,1141.1 1550.9,1138.4 1548.2,1138.4 1548.2,1135.7 1547.7,1135.7 1547.7,1130.3 1548.2,1130.3 1548.2,1127.6 1550.9,1127.6 1550.9,1124.9 1553.9,1124.9" fill="#b26ede"/><polygon points="1569.7,1122.2 1574.6,1122.2 1574.6,1124.9 1577.6,1124.9 1577.6,1127.6 1580.3,1127.6 1580.3,1130.3 1580.8,1130.3 1580.8,1135.7 1580.3,1135.7 1580.3,1138.4 1577.6,1138.4 1577.6,1141.1 1574.6,1141.1 1574.6,1143.8 1569.7,1143.8 1569.7,1141.1 1566.6,1141.1 1566.6,1138.4 1563.9,1138.4 1563.9,1135.7 1563.5,1135.7 1563.5,1130.3 1563.9,1130.3 1563.9,1127.6 1566.6,1127.6 1566.6,1124.9 1569.7,1124.9" fill="#b26ede"/><polygon points="1585.4,1122.2 1590.3,1122.2 1590.3,1124.9 1593.4,1124.9 1593.4,1127.6 1596.1,1127.6 1596.1,1130.3 1596.5,1130.3 1596.5,1135.7 1596.1,1135.7 1596.1,1138.4 1593.4,1138.4 1593.4,1141.1 1590.3,1141.1 1590.3,1143.8 1585.4,1143.8 1585.4,1141.1 1582.4,1141.1 1582.4,1138.4 1579.7,1138.4 1579.7,1135.7 1579.2,1135.7 1579.2,1130.3 1579.7,1130.3 1579.7,1127.6 1582.4,1127.6 1582.4,1124.9 1585.4,1124.9" fill="#b26ede"/><polygon points="1601.2,1122.2 1606.1,1122.2 1606.1,1124.9 1609.2,1124.9 1609.2,1127.6 1611.9,1127.6 1611.9,1130.3 1612.3,1130.3 1612.3,1135.7 1611.9,1135.7 1611.9,1138.4 1609.2,1138.4 1609.2,1141.1 1606.1,1141.1 1606.1,1143.8 1601.2,1143.8 1601.2,1141.1 1598.2,1141.1 1598.2,1138.4 1595.5,1138.4 1595.5,1135.7 1595.0,1135.7 1595.0,1130.3 1595.5,1130.3 1595.5,1127.6 1598.2,1127.6 1598.2,1124.9 1601.2,1124.9" fill="#b26ede"/><polygon points="1617.0,1122.2 1621.9,1122.2 1621.9,1124.9 1624.9,1124.9 1624.9,1127.6 1627.6,1127.6 1627.6,1130.3 1628.1,1130.3 1628.1,1135.7 1627.6,1135.7 1627.6,1138.4 1624.9,1138.4 1624.9,1141.1 1621.9,1141.1 1621.9,1143.8 1617.0,1143.8 1617.0,1141.1 1613.9,1141.1 1613.9,1138.4 1611.2,1138.4 1611.2,1135.7 1610.8,1135.7 1610.8,1130.3 1611.2,1130.3 1611.2,1127.6 1613.9,1127.6 1613.9,1124.9 1617.0,1124.9" fill="#b26ede"/><polygon points="1632.7,1122.2 1637.6,1122.2 1637.6,1124.9 1640.7,1124.9 1640.7,1127.6 1643.4,1127.6 1643.4,1130.3 1643.8,1130.3 1643.8,1135.7 1643.4,1135.7 1643.4,1138.4 1640.7,1138.4 1640.7,1141.1 1637.6,1141.1 1637.6,1143.8 1632.7,1143.8 1632.7,1141.1 1629.7,1141.1 1629.7,1138.4 1627.0,1138.4 1627.0,1135.7 1626.5,1135.7 1626.5,1130.3 1627.0,1130.3 1627.0,1127.6 1629.7,1127.6 1629.7,1124.9 1632.7,1124.9" fill="#b26ede"/><polygon points="1648.5,1122.2 1653.4,1122.2 1653.4,1124.9 1656.4,1124.9 1656.4,1127.6 1659.1,1127.6 1659.1,1130.3 1659.6,1130.3 1659.6,1135.7 1659.1,1135.7 1659.1,1138.4 1656.4,1138.4 1656.4,1141.1 1653.4,1141.1 1653.4,1143.8 1648.5,1143.8 1648.5,1141.1 1645.4,1141.1 1645.4,1138.4 1642.7,1138.4 1642.7,1135.7 1642.3,1135.7 1642.3,1130.3 1642.7,1130.3 1642.7,1127.6 1645.4,1127.6 1645.4,1124.9 1648.5,1124.9" fill="#b26ede"/><polygon points="1664.3,1122.2 1669.2,1122.2 1669.2,1124.9 1672.2,1124.9 1672.2,1127.6 1674.9,1127.6 1674.9,1130.3 1675.4,1130.3 1675.4,1135.7 1674.9,1135.7 1674.9,1138.4 1672.2,1138.4 1672.2,1141.1 1669.2,1141.1 1669.2,1143.8 1664.3,1143.8 1664.3,1141.1 1661.2,1141.1 1661.2,1138.4 1658.5,1138.4 1658.5,1135.7 1658.1,1135.7 1658.1,1130.3 1658.5,1130.3 1658.5,1127.6 1661.2,1127.6 1661.2,1124.9 1664.3,1124.9" fill="#b26ede"/><polygon points="1680.0,1122.2 1684.9,1122.2 1684.9,1124.9 1688.0,1124.9 1688.0,1127.6 1690.7,1127.6 1690.7,1130.3 1691.1,1130.3 1691.1,1135.7 1690.7,1135.7 1690.7,1138.4 1688.0,1138.4 1688.0,1141.1 1684.9,1141.1 1684.9,1143.8 1680.0,1143.8 1680.0,1141.1 1677.0,1141.1 1677.0,1138.4 1674.3,1138.4 1674.3,1135.7 1673.8,1135.7 1673.8,1130.3 1674.3,1130.3 1674.3,1127.6 1677.0,1127.6 1677.0,1124.9 1680.0,1124.9" fill="#b26ede"/><polygon points="1695.8,1122.2 1700.7,1122.2 1700.7,1124.9 1703.7,1124.9 1703.7,1127.6 1706.4,1127.6 1706.4,1130.3 1706.9,1130.3 1706.9,1135.7 1706.4,1135.7 1706.4,1138.4 1703.7,1138.4 1703.7,1141.1 1700.7,1141.1 1700.7,1143.8 1695.8,1143.8 1695.8,1141.1 1692.7,1141.1 1692.7,1138.4 1690.0,1138.4 1690.0,1135.7 1689.6,1135.7 1689.6,1130.3 1690.0,1130.3 1690.0,1127.6 1692.7,1127.6 1692.7,1124.9 1695.8,1124.9" fill="#b26ede"/><polygon points="1711.5,1122.2 1716.5,1122.2 1716.5,1124.9 1719.5,1124.9 1719.5,1127.6 1722.2,1127.6 1722.2,1130.3 1722.7,1130.3 1722.7,1135.7 1722.2,1135.7 1722.2,1138.4 1719.5,1138.4 1719.5,1141.1 1716.5,1141.1 1716.5,1143.8 1711.5,1143.8 1711.5,1141.1 1708.5,1141.1 1708.5,1138.4 1705.8,1138.4 1705.8,1135.7 1705.3,1135.7 1705.3,1130.3 1705.8,1130.3 1705.8,1127.6 1708.5,1127.6 1708.5,1124.9 1711.5,1124.9" fill="#b26ede"/>
</g>
<g font-family="'Liberation Serif', serif" font-weight="bold" font-size="48" fill="#000">
<text x="129" y="1147.5" text-anchor="end">0.0</text>
<text x="129" y="974.7" text-anchor="end">0.2</text>
<text x="129" y="801.9" text-anchor="end">0.4</text>
<text x="129" y="629.1" text-anchor="end">0.6</text>
<text x="129" y="456.3" text-anchor="end">0.8</text>
<text x="129" y="283.5" text-anchor="end">1.0</text>
<text x="129" y="110.7" text-anchor="end">1.2</text>
<text x="151.0" y="1281" text-anchor="middle">0.01</text>
<text x="411.1" y="1281" text-anchor="middle">0.1</text>
<text x="673.2" y="1281" text-anchor="middle">1</text>
<text x="934.8" y="1281" text-anchor="middle">10</text>
<text x="1194.8" y="1281" text-anchor="middle">100</text>
<text x="1454.9" y="1281" text-anchor="middle">1000</text>
<text x="1715.0" y="1281" text-anchor="middle">10000</text>
<text x="349" y="108.9" font-size="49.4">saturated oil</text>
<text x="349" y="170.4" font-size="49.4">water drive</text>
<text x="349" y="233.1" font-size="49.4">water/gas alternation</text>
<text x="349" y="295.8" font-size="49.4">CO<tspan font-size="32" dy="12">2</tspan><tspan dy="-12"> foam</tspan></text>
<text x="349" y="366.0" font-size="49.4">water/gas alternation</text>
</g>
<rect x="223" y="89.5" width="103.5" height="5.0" fill="#000000"/>
<rect x="266.5" y="84.0" width="16" height="16" fill="#000000"/>
<rect x="223" y="151.0" width="103.5" height="7.0" fill="#f5363f"/>
<circle cx="274.5" cy="154.5" r="8.5" fill="#ff0000"/>
<rect x="223" y="212.0" width="103.5" height="8.0" fill="#1a66d6"/>
<polygon points="273.1,203.8 275.9,203.8 285.4,222.6 263.6,222.6" fill="#1a66d6"/>
<rect x="223" y="274.8" width="103.5" height="6.5" fill="#2ea464"/>
<polygon points="272.5,288.4 276.5,288.4 285.4,271.8 263.6,271.8" fill="#2ea464"/>
<rect x="223" y="347.8" width="103.5" height="6.5" fill="#b26ede"/>
<polygon points="272.1,340.1 276.9,340.1 276.9,342.9 280.0,342.9 280.0,345.6 282.7,345.6 282.7,348.3 283.1,348.3 283.1,353.7 282.7,353.7 282.7,356.4 280.0,356.4 280.0,359.1 276.9,359.1 276.9,361.9 272.1,361.9 272.1,359.1 269.0,359.1 269.0,356.4 266.3,356.4 266.3,353.7 265.9,353.7 265.9,348.3 266.3,348.3 266.3,345.6 269.0,345.6 269.0,342.9 272.1,342.9" fill="#b26ede"/>
<g font-family="'Liberation Serif', serif" font-weight="bold" font-size="57" fill="#000">
<text x="904" y="1335" text-anchor="middle" font-size="59">T<tspan font-size="38" dy="13">2</tspan><tspan dy="-13">/ms</tspan></text>
<text transform="translate(42,613) rotate(-90)" text-anchor="middle">Range</text>
</g>
</svg>
</body></html>
